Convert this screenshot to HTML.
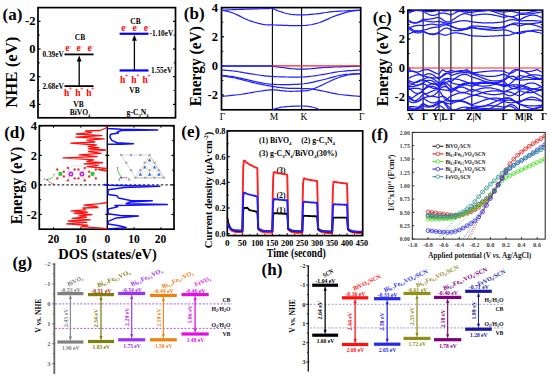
<!DOCTYPE html>
<html><head><meta charset="utf-8"><style>
html,body{margin:0;padding:0;background:#fff;width:550px;height:378px;overflow:hidden}
svg{display:block}
</style></head><body>
<svg width="550" height="378" viewBox="0 0 550 378">
<rect width="550" height="378" fill="#fff"/>
<rect x="38" y="7.6" width="137.5" height="110.2" stroke="#000" stroke-width="1.7" fill="none"/>
<line x1="38" y1="21.3" x2="40.5" y2="21.3" stroke="#000" stroke-width="1.2" />
<line x1="173" y1="21.3" x2="175.5" y2="21.3" stroke="#000" stroke-width="1.2" />
<text x="35.5" y="25.3" font-family='"Liberation Serif", serif' font-size="12.5" font-weight="bold" text-anchor="end" fill="#000" >-2</text>
<line x1="38" y1="49" x2="40.5" y2="49" stroke="#000" stroke-width="1.2" />
<line x1="173" y1="49" x2="175.5" y2="49" stroke="#000" stroke-width="1.2" />
<text x="35.5" y="53" font-family='"Liberation Serif", serif' font-size="12.5" font-weight="bold" text-anchor="end" fill="#000" >0</text>
<line x1="38" y1="76.7" x2="40.5" y2="76.7" stroke="#000" stroke-width="1.2" />
<line x1="173" y1="76.7" x2="175.5" y2="76.7" stroke="#000" stroke-width="1.2" />
<text x="35.5" y="80.7" font-family='"Liberation Serif", serif' font-size="12.5" font-weight="bold" text-anchor="end" fill="#000" >2</text>
<line x1="38" y1="104.4" x2="40.5" y2="104.4" stroke="#000" stroke-width="1.2" />
<line x1="173" y1="104.4" x2="175.5" y2="104.4" stroke="#000" stroke-width="1.2" />
<text x="35.5" y="108.4" font-family='"Liberation Serif", serif' font-size="12.5" font-weight="bold" text-anchor="end" fill="#000" >4</text>
<line x1="38" y1="35.15" x2="39.8" y2="35.15" stroke="#000" stroke-width="1" />
<line x1="173.7" y1="35.15" x2="175.5" y2="35.15" stroke="#000" stroke-width="1" />
<line x1="38" y1="62.85" x2="39.8" y2="62.85" stroke="#000" stroke-width="1" />
<line x1="173.7" y1="62.85" x2="175.5" y2="62.85" stroke="#000" stroke-width="1" />
<line x1="38" y1="90.55" x2="39.8" y2="90.55" stroke="#000" stroke-width="1" />
<line x1="173.7" y1="90.55" x2="175.5" y2="90.55" stroke="#000" stroke-width="1" />
<text x="2.5" y="19.8" font-family='"Liberation Serif", serif' font-size="17" font-weight="bold" text-anchor="start" fill="#000" >(a)</text>
<text x="17.2" y="72.2" font-family='"Liberation Serif", serif' font-size="17" font-weight="bold" text-anchor="middle" fill="#000" transform="rotate(-90 17.2 72.2)"  textLength="71" lengthAdjust="spacingAndGlyphs">NHE (eV)</text>
<line x1="64.5" y1="54.4" x2="93.5" y2="54.4" stroke="#000" stroke-width="1.8" />
<line x1="64.5" y1="86.12" x2="93.5" y2="86.12" stroke="#000" stroke-width="1.8" />
<line x1="79.2" y1="86.12" x2="79.2" y2="60.4" stroke="#000" stroke-width="1.3" />
<path d="M79.2,55.4 L76.8,61.4 L81.6,61.4 Z" fill="#000"/>
<text x="63.7" y="56.9" font-family='"Liberation Serif", serif' font-size="7.3" font-weight="bold" text-anchor="end" fill="#000" >0.39eV</text>
<text x="63.7" y="88.62" font-family='"Liberation Serif", serif' font-size="7.3" font-weight="bold" text-anchor="end" fill="#000" >2.68eV</text>
<text x="80" y="39.5" font-family='"Liberation Serif", serif' font-size="7.5" font-weight="bold" text-anchor="middle" fill="#000" >CB</text>
<text x="78.5" y="106.5" font-family='"Liberation Serif", serif' font-size="7.5" font-weight="bold" text-anchor="middle" fill="#000" >VB</text>
<text x="80" y="115.2" font-family='"Liberation Serif", serif' font-size="7.6" font-weight="bold" text-anchor="middle" fill="#000" >BiVO<tspan font-size="4.5" dy="1.5">4</tspan></text>
<text x="65.2" y="50.8" font-family='"Liberation Serif", serif' font-size="9.5" font-weight="bold" text-anchor="start" fill="#f00" >e</text>
<text x="69.6" y="46.6" font-family='"Liberation Serif", serif' font-size="5" font-weight="bold" text-anchor="start" fill="#f00" >-</text>
<text x="64" y="96.2" font-family='"Liberation Serif", serif' font-size="9.5" font-weight="bold" text-anchor="start" fill="#f00" >h</text>
<text x="69" y="91" font-family='"Liberation Serif", serif' font-size="5.5" font-weight="bold" text-anchor="start" fill="#f00" >+</text>
<text x="76.5" y="50.8" font-family='"Liberation Serif", serif' font-size="9.5" font-weight="bold" text-anchor="start" fill="#f00" >e</text>
<text x="80.9" y="46.6" font-family='"Liberation Serif", serif' font-size="5" font-weight="bold" text-anchor="start" fill="#f00" >-</text>
<text x="75.3" y="96.2" font-family='"Liberation Serif", serif' font-size="9.5" font-weight="bold" text-anchor="start" fill="#f00" >h</text>
<text x="80.3" y="91" font-family='"Liberation Serif", serif' font-size="5.5" font-weight="bold" text-anchor="start" fill="#f00" >+</text>
<text x="87.5" y="50.8" font-family='"Liberation Serif", serif' font-size="9.5" font-weight="bold" text-anchor="start" fill="#f00" >e</text>
<text x="91.9" y="46.6" font-family='"Liberation Serif", serif' font-size="5" font-weight="bold" text-anchor="start" fill="#f00" >-</text>
<text x="86.3" y="96.2" font-family='"Liberation Serif", serif' font-size="9.5" font-weight="bold" text-anchor="start" fill="#f00" >h</text>
<text x="91.3" y="91" font-family='"Liberation Serif", serif' font-size="5.5" font-weight="bold" text-anchor="start" fill="#f00" >+</text>
<line x1="119.6" y1="33.77" x2="148.5" y2="33.77" stroke="#0000ff" stroke-width="2.2" />
<line x1="119.6" y1="70.47" x2="148.5" y2="70.47" stroke="#0000ff" stroke-width="2.2" />
<line x1="134.4" y1="70.47" x2="134.4" y2="39.77" stroke="#000" stroke-width="1.3" />
<path d="M134.4,34.77 L132,40.77 L136.8,40.77 Z" fill="#000"/>
<text x="149.5" y="36.37" font-family='"Liberation Serif", serif' font-size="7.3" font-weight="bold" text-anchor="start" fill="#000" >-1.10eV</text>
<text x="151" y="73.07" font-family='"Liberation Serif", serif' font-size="7.3" font-weight="bold" text-anchor="start" fill="#000" >1.55eV</text>
<text x="135.5" y="23.8" font-family='"Liberation Serif", serif' font-size="7.5" font-weight="bold" text-anchor="middle" fill="#000" >CB</text>
<text x="134.5" y="92.6" font-family='"Liberation Serif", serif' font-size="7.5" font-weight="bold" text-anchor="middle" fill="#000" >VB</text>
<text x="137.5" y="115" font-family='"Liberation Serif", serif' font-size="7.6" font-weight="bold" text-anchor="middle" fill="#000" >g-C<tspan font-size="4.5" dy="1.5">3</tspan><tspan dy="-1.5">N</tspan><tspan font-size="4.5" dy="1.5">4</tspan></text>
<text x="121.2" y="31.2" font-family='"Liberation Serif", serif' font-size="9.5" font-weight="bold" text-anchor="start" fill="#f00" >e</text>
<text x="125.6" y="27.2" font-family='"Liberation Serif", serif' font-size="5" font-weight="bold" text-anchor="start" fill="#f00" >-</text>
<text x="120" y="83.2" font-family='"Liberation Serif", serif' font-size="9.5" font-weight="bold" text-anchor="start" fill="#f00" >h</text>
<text x="125" y="78.2" font-family='"Liberation Serif", serif' font-size="5.5" font-weight="bold" text-anchor="start" fill="#f00" >+</text>
<text x="132.5" y="31.2" font-family='"Liberation Serif", serif' font-size="9.5" font-weight="bold" text-anchor="start" fill="#f00" >e</text>
<text x="136.9" y="27.2" font-family='"Liberation Serif", serif' font-size="5" font-weight="bold" text-anchor="start" fill="#f00" >-</text>
<text x="131.3" y="83.2" font-family='"Liberation Serif", serif' font-size="9.5" font-weight="bold" text-anchor="start" fill="#f00" >h</text>
<text x="136.3" y="78.2" font-family='"Liberation Serif", serif' font-size="5.5" font-weight="bold" text-anchor="start" fill="#f00" >+</text>
<text x="143.8" y="31.2" font-family='"Liberation Serif", serif' font-size="9.5" font-weight="bold" text-anchor="start" fill="#f00" >e</text>
<text x="148.2" y="27.2" font-family='"Liberation Serif", serif' font-size="5" font-weight="bold" text-anchor="start" fill="#f00" >-</text>
<text x="142.6" y="83.2" font-family='"Liberation Serif", serif' font-size="9.5" font-weight="bold" text-anchor="start" fill="#f00" >h</text>
<text x="147.6" y="78.2" font-family='"Liberation Serif", serif' font-size="5.5" font-weight="bold" text-anchor="start" fill="#f00" >+</text>
<rect x="221.5" y="7.6" width="139.2" height="102.2" stroke="#000" stroke-width="1.7" fill="none"/>
<line x1="272.4" y1="7.6" x2="272.4" y2="109.8" stroke="#000" stroke-width="1.1" />
<line x1="301.6" y1="7.6" x2="301.6" y2="109.8" stroke="#000" stroke-width="1.1" />
<line x1="221.5" y1="7.62" x2="224" y2="7.62" stroke="#000" stroke-width="1.2" />
<text x="218" y="11.62" font-family='"Liberation Serif", serif' font-size="12.5" font-weight="bold" text-anchor="end" fill="#000" >4</text>
<line x1="221.5" y1="36.76" x2="224" y2="36.76" stroke="#000" stroke-width="1.2" />
<text x="218" y="40.76" font-family='"Liberation Serif", serif' font-size="12.5" font-weight="bold" text-anchor="end" fill="#000" >2</text>
<line x1="221.5" y1="65.9" x2="224" y2="65.9" stroke="#000" stroke-width="1.2" />
<text x="218" y="69.9" font-family='"Liberation Serif", serif' font-size="12.5" font-weight="bold" text-anchor="end" fill="#000" >0</text>
<line x1="221.5" y1="95.04" x2="224" y2="95.04" stroke="#000" stroke-width="1.2" />
<text x="218" y="99.04" font-family='"Liberation Serif", serif' font-size="12.5" font-weight="bold" text-anchor="end" fill="#000" >-2</text>
<line x1="221.5" y1="22.19" x2="223.3" y2="22.19" stroke="#000" stroke-width="1" />
<line x1="221.5" y1="51.33" x2="223.3" y2="51.33" stroke="#000" stroke-width="1" />
<line x1="221.5" y1="80.47" x2="223.3" y2="80.47" stroke="#000" stroke-width="1" />
<line x1="358.9" y1="22.19" x2="360.7" y2="22.19" stroke="#000" stroke-width="1" />
<line x1="358.9" y1="51.33" x2="360.7" y2="51.33" stroke="#000" stroke-width="1" />
<line x1="358.9" y1="80.47" x2="360.7" y2="80.47" stroke="#000" stroke-width="1" />
<text x="183.8" y="19.4" font-family='"Liberation Serif", serif' font-size="17" font-weight="bold" text-anchor="start" fill="#000" >(b)</text>
<text x="201" y="66.2" font-family='"Liberation Serif", serif' font-size="17" font-weight="bold" text-anchor="middle" fill="#000" transform="rotate(-90 201 66.2)"  textLength="80" lengthAdjust="spacingAndGlyphs">Energy (eV)</text>
<text x="222.5" y="119.8" font-family='"Liberation Serif", serif' font-size="9.5" font-weight="normal" text-anchor="middle" fill="#000" >Γ</text>
<text x="273.9" y="119.8" font-family='"Liberation Serif", serif' font-size="9.5" font-weight="normal" text-anchor="middle" fill="#000" >M</text>
<text x="303.9" y="119.8" font-family='"Liberation Serif", serif' font-size="9.5" font-weight="normal" text-anchor="middle" fill="#000" >K</text>
<text x="361.8" y="119.8" font-family='"Liberation Serif", serif' font-size="9.5" font-weight="normal" text-anchor="middle" fill="#000" >Γ</text>
<polyline points="221.5,10.2 222.54,10.15 223.79,10.09 225.25,10.03 226.9,9.95 228.72,9.86 230.71,9.77 232.85,9.68 235.11,9.59 237.5,9.49 240,9.4 242.82,9.3 246.11,9.2 249.72,9.08 253.51,8.97 257.36,8.85 261.11,8.74 264.62,8.63 267.77,8.54 270.41,8.46 272.4,8.4" fill="none" stroke="#1f1fff" stroke-width="1.2" stroke-linejoin="round" />
<polyline points="272.4,8.4 272.84,8.59 273.4,8.83 274.05,9.11 274.78,9.44 275.57,9.78 276.42,10.14 277.3,10.5 278.2,10.86 279.11,11.19 280,11.5 280.9,11.8 281.82,12.1 282.77,12.4 283.75,12.7 284.75,13 285.77,13.28 286.81,13.55 287.86,13.79 288.92,14.01 290,14.2 291.09,14.36 292.19,14.49 293.31,14.61 294.44,14.7 295.59,14.77 296.75,14.83 297.94,14.87 299.14,14.89 300.36,14.9 301.6,14.9 302.84,14.88 304.06,14.85 305.28,14.8 306.51,14.73 307.78,14.65 309.08,14.55 310.44,14.44 311.87,14.31 313.38,14.16 315,14 316.71,13.81 318.49,13.58 320.35,13.33 322.27,13.06 324.26,12.78 326.3,12.49 328.4,12.21 330.56,11.95 332.76,11.71 335,11.5 337.43,11.32 340.13,11.14 343,10.98 345.95,10.83 348.9,10.69 351.75,10.57 354.4,10.46 356.77,10.36 358.77,10.27 360.3,10.2" fill="none" stroke="#1f1fff" stroke-width="1.2" stroke-linejoin="round" />
<polyline points="221.5,10.2 222.17,10.35 223.01,10.51 223.99,10.7 225.1,10.92 226.31,11.16 227.6,11.44 228.93,11.76 230.29,12.13 231.66,12.54 233,13 234.36,13.54 235.79,14.18 237.27,14.88 238.8,15.63 240.34,16.41 241.9,17.2 243.46,17.97 245.01,18.71 246.52,19.39 248,20 249.46,20.55 250.92,21.08 252.39,21.58 253.84,22.05 255.29,22.49 256.71,22.91 258.1,23.29 259.45,23.63 260.75,23.93 262,24.2 263.1,24.41 264.01,24.56 264.79,24.67 265.52,24.73 266.25,24.77 267.06,24.79 268.01,24.8 269.17,24.82 270.61,24.85 272.4,24.9 274.62,24.98 277.24,25.09 280.18,25.21 283.34,25.34 286.62,25.46 289.94,25.56 293.19,25.63 296.28,25.67 299.11,25.66 301.6,25.6 303.76,25.49 305.69,25.36 307.44,25.2 309.05,25.01 310.56,24.78 312.01,24.52 313.44,24.21 314.89,23.85 316.39,23.45 318,23 319.68,22.47 321.39,21.84 323.12,21.14 324.85,20.4 326.59,19.62 328.32,18.83 330.03,18.05 331.72,17.31 333.38,16.62 335,16 336.6,15.43 338.2,14.89 339.8,14.37 341.37,13.87 342.92,13.39 344.43,12.95 345.91,12.54 347.33,12.16 348.7,11.81 350,11.5 351.27,11.23 352.53,11.01 353.76,10.83 354.95,10.69 356.09,10.57 357.15,10.47 358.12,10.39 358.97,10.33 359.71,10.26 360.3,10.2" fill="none" stroke="#1f1fff" stroke-width="1.2" stroke-linejoin="round" />
<polyline points="221.5,66.1 224.76,66.1 229.24,66.1 234.63,66.1 240.64,66.1 246.95,66.1 253.26,66.1 259.27,66.1 264.66,66.1 269.14,66.1 272.4,66.1" fill="none" stroke="#1f1fff" stroke-width="1.2" stroke-linejoin="round" />
<polyline points="272.4,66.1 272.93,66.18 273.55,66.29 274.26,66.41 275.07,66.54 275.97,66.69 276.98,66.85 278.08,67.01 279.29,67.18 280.59,67.34 282,67.5 283.54,67.67 285.22,67.88 287.03,68.1 288.94,68.32 290.94,68.54 293.01,68.75 295.13,68.93 297.28,69.07 299.44,69.17 301.6,69.2 303.73,69.17 305.85,69.07 307.97,68.93 310.12,68.75 312.32,68.54 314.6,68.32 316.99,68.1 319.5,67.88 322.16,67.67 325,67.5 328.21,67.34 331.86,67.18 335.83,67.01 339.96,66.85 344.11,66.69 348.15,66.54 351.93,66.41 355.31,66.29 358.15,66.18 360.3,66.1" fill="none" stroke="#1f1fff" stroke-width="1.2" stroke-linejoin="round" />
<polyline points="221.5,70 222.27,70.06 223.23,70.13 224.35,70.21 225.62,70.29 227,70.39 228.48,70.51 230.05,70.65 231.67,70.81 233.33,70.99 235,71.2 236.75,71.45 238.63,71.75 240.6,72.08 242.66,72.43 244.76,72.8 246.88,73.17 248.99,73.54 251.06,73.89 253.08,74.21 255,74.5 256.79,74.76 258.46,75.01 260.04,75.24 261.58,75.47 263.12,75.67 264.72,75.87 266.39,76.05 268.21,76.22 270.19,76.37 272.4,76.5 274.89,76.62 277.66,76.74 280.63,76.84 283.75,76.93 286.94,77 290.13,77.05 293.26,77.08 296.26,77.08 299.06,77.06 301.6,77 303.87,76.91 305.95,76.78 307.86,76.63 309.66,76.45 311.38,76.25 313.04,76.03 314.7,75.79 316.39,75.54 318.14,75.27 320,75 321.93,74.7 323.89,74.36 325.87,74 327.87,73.61 329.88,73.22 331.9,72.83 333.93,72.45 335.96,72.1 337.98,71.78 340,71.5 342.11,71.26 344.37,71.05 346.71,70.86 349.07,70.68 351.4,70.53 353.63,70.4 355.69,70.28 357.53,70.17 359.09,70.08 360.3,70" fill="none" stroke="#1f1fff" stroke-width="1.2" stroke-linejoin="round" />
<polyline points="221.5,75.3 222.27,75.39 223.23,75.49 224.35,75.6 225.62,75.72 227,75.87 228.48,76.04 230.05,76.23 231.67,76.45 233.33,76.71 235,77 236.75,77.34 238.63,77.75 240.6,78.2 242.66,78.68 244.76,79.18 246.88,79.69 248.99,80.19 251.06,80.66 253.08,81.11 255,81.5 256.79,81.86 258.46,82.22 260.04,82.56 261.58,82.89 263.12,83.2 264.72,83.48 266.39,83.74 268.21,83.97 270.19,84.15 272.4,84.3 274.88,84.41 277.63,84.5 280.57,84.55 283.65,84.58 286.81,84.57 289.99,84.54 293.12,84.46 296.13,84.35 298.98,84.19 301.6,84 304,83.75 306.25,83.45 308.38,83.1 310.41,82.71 312.38,82.29 314.29,81.85 316.19,81.39 318.09,80.92 320.02,80.46 322,80 324.02,79.52 326.05,79.01 328.08,78.46 330.11,77.9 332.13,77.34 334.14,76.8 336.14,76.27 338.12,75.79 340.07,75.36 342,75 343.98,74.7 346.06,74.45 348.19,74.25 350.32,74.08 352.4,73.94 354.38,73.82 356.21,73.73 357.84,73.65 359.22,73.57 360.3,73.5" fill="none" stroke="#1f1fff" stroke-width="1.2" stroke-linejoin="round" />
<polyline points="221.5,75.8 222.27,75.92 223.23,76.05 224.35,76.21 225.62,76.39 227,76.59 228.48,76.81 230.05,77.06 231.67,77.35 233.33,77.66 235,78 236.75,78.39 238.63,78.85 240.6,79.34 242.66,79.88 244.76,80.42 246.88,80.98 248.99,81.53 251.06,82.06 253.08,82.55 255,83 256.86,83.41 258.69,83.81 260.5,84.19 262.28,84.55 264.04,84.9 265.77,85.23 267.47,85.55 269.14,85.85 270.79,86.13 272.4,86.4 273.97,86.65 275.5,86.89 276.99,87.1 278.44,87.31 279.88,87.49 281.29,87.66 282.71,87.82 284.12,87.96 285.55,88.09 287,88.2 288.48,88.29 289.99,88.35 291.51,88.39 293.04,88.42 294.56,88.43 296.06,88.44 297.53,88.44 298.95,88.45 300.31,88.47 301.6,88.5 302.8,88.53 303.91,88.56 304.95,88.57 305.94,88.59 306.9,88.61 307.85,88.65 308.82,88.7 309.82,88.77 310.87,88.87 312,89 313.19,89.17 314.4,89.36 315.65,89.59 316.92,89.83 318.21,90.09 319.53,90.37 320.87,90.65 322.23,90.94 323.61,91.22 325,91.5 326.4,91.78 327.79,92.09 329.19,92.4 330.6,92.72 332.04,93.04 333.52,93.36 335.05,93.67 336.63,93.96 338.28,94.24 340,94.5 341.91,94.74 344.05,94.98 346.34,95.21 348.71,95.43 351.09,95.64 353.39,95.83 355.54,96 357.45,96.16 359.07,96.29 360.3,96.4" fill="none" stroke="#1f1fff" stroke-width="1.2" stroke-linejoin="round" />
<polyline points="221.5,96.4 222.6,96.29 224.02,96.16 225.71,96 227.59,95.83 229.62,95.64 231.75,95.43 233.9,95.21 236.04,94.98 238.09,94.74 240,94.5 241.84,94.24 243.69,93.95 245.55,93.64 247.41,93.32 249.26,92.99 251.08,92.66 252.88,92.34 254.64,92.03 256.35,91.75 258,91.5 259.58,91.26 261.11,91.03 262.58,90.8 264.01,90.58 265.41,90.38 266.8,90.19 268.18,90.04 269.56,89.92 270.97,89.84 272.4,89.8 273.85,89.82 275.31,89.91 276.77,90.04 278.23,90.21 279.69,90.41 281.15,90.61 282.61,90.8 284.08,90.97 285.54,91.11 287,91.2 288.49,91.25 290.02,91.28 291.58,91.28 293.14,91.27 294.69,91.25 296.21,91.21 297.68,91.17 299.08,91.12 300.39,91.06 301.6,91 302.68,90.95 303.65,90.9 304.53,90.85 305.33,90.8 306.09,90.74 306.82,90.65 307.56,90.55 308.32,90.4 309.12,90.23 310,90 310.91,89.73 311.82,89.44 312.72,89.11 313.64,88.76 314.59,88.38 315.56,87.96 316.58,87.52 317.65,87.04 318.79,86.53 320,86 321.31,85.41 322.71,84.74 324.2,84.03 325.74,83.27 327.31,82.5 328.9,81.73 330.49,80.97 332.05,80.26 333.56,79.59 335,79 336.38,78.47 337.74,77.96 339.07,77.49 340.38,77.05 341.67,76.64 342.95,76.25 344.21,75.9 345.48,75.57 346.74,75.27 348,75 349.31,74.76 350.7,74.56 352.13,74.4 353.56,74.26 354.96,74.15 356.3,74.06 357.54,73.98 358.64,73.92 359.57,73.86 360.3,73.8" fill="none" stroke="#1f1fff" stroke-width="1.2" stroke-linejoin="round" />
<polyline points="272.4,109.6 272.99,109.44 273.71,109.22 274.55,108.96 275.49,108.67 276.54,108.36 277.68,108.05 278.9,107.74 280.2,107.46 281.57,107.21 283,107 284.57,106.83 286.34,106.67 288.25,106.52 290.26,106.39 292.31,106.28 294.37,106.18 296.37,106.1 298.28,106.05 300.04,106.01 301.6,106 302.98,106.01 304.25,106.05 305.41,106.1 306.48,106.18 307.49,106.27 308.44,106.39 309.34,106.52 310.23,106.67 311.11,106.83 312,107 312.91,107.21 313.82,107.46 314.73,107.74 315.61,108.05 316.45,108.36 317.24,108.67 317.97,108.96 318.61,109.22 319.16,109.44 319.6,109.6" fill="none" stroke="#1f1fff" stroke-width="1.2" stroke-linejoin="round" />
<line x1="272.4" y1="65.9" x2="360.3" y2="65.9" stroke="#ff2020" stroke-width="1.3" />
<line x1="221.5" y1="65.9" x2="272.4" y2="65.9" stroke="#1f1fff" stroke-width="1.3" />
<rect x="407.9" y="10.2" width="134.7" height="100" stroke="#000" stroke-width="1.7" fill="none"/>
<line x1="423.1" y1="10.2" x2="423.1" y2="110.2" stroke="#000" stroke-width="1.1" />
<line x1="439" y1="10.2" x2="439" y2="110.2" stroke="#000" stroke-width="1.1" />
<line x1="450.9" y1="10.2" x2="450.9" y2="110.2" stroke="#000" stroke-width="1.1" />
<line x1="471.8" y1="10.2" x2="471.8" y2="110.2" stroke="#000" stroke-width="1.1" />
<line x1="503.9" y1="10.2" x2="503.9" y2="110.2" stroke="#000" stroke-width="1.1" />
<line x1="519.4" y1="10.2" x2="519.4" y2="110.2" stroke="#000" stroke-width="1.1" />
<line x1="407.9" y1="10.2" x2="410.4" y2="10.2" stroke="#000" stroke-width="1.2" />
<text x="405" y="14.2" font-family='"Liberation Serif", serif' font-size="12.5" font-weight="bold" text-anchor="end" fill="#000" >4</text>
<line x1="407.9" y1="39.1" x2="410.4" y2="39.1" stroke="#000" stroke-width="1.2" />
<text x="405" y="43.1" font-family='"Liberation Serif", serif' font-size="12.5" font-weight="bold" text-anchor="end" fill="#000" >2</text>
<line x1="407.9" y1="68" x2="410.4" y2="68" stroke="#000" stroke-width="1.2" />
<text x="405" y="72" font-family='"Liberation Serif", serif' font-size="12.5" font-weight="bold" text-anchor="end" fill="#000" >0</text>
<line x1="407.9" y1="96.9" x2="410.4" y2="96.9" stroke="#000" stroke-width="1.2" />
<text x="405" y="100.9" font-family='"Liberation Serif", serif' font-size="12.5" font-weight="bold" text-anchor="end" fill="#000" >-2</text>
<line x1="407.9" y1="24.65" x2="409.7" y2="24.65" stroke="#000" stroke-width="1" />
<line x1="540.8" y1="24.65" x2="542.6" y2="24.65" stroke="#000" stroke-width="1" />
<line x1="407.9" y1="53.55" x2="409.7" y2="53.55" stroke="#000" stroke-width="1" />
<line x1="540.8" y1="53.55" x2="542.6" y2="53.55" stroke="#000" stroke-width="1" />
<line x1="407.9" y1="82.45" x2="409.7" y2="82.45" stroke="#000" stroke-width="1" />
<line x1="540.8" y1="82.45" x2="542.6" y2="82.45" stroke="#000" stroke-width="1" />
<text x="372.8" y="22.5" font-family='"Liberation Serif", serif' font-size="17" font-weight="bold" text-anchor="start" fill="#000" >(c)</text>
<text x="388" y="66.2" font-family='"Liberation Serif", serif' font-size="17" font-weight="bold" text-anchor="middle" fill="#000" transform="rotate(-90 388 66.2)"  textLength="80" lengthAdjust="spacingAndGlyphs">Energy (eV)</text>
<text x="410.5" y="120" font-family='"Liberation Serif", serif' font-size="9.5" font-weight="bold" text-anchor="middle" fill="#000" >X</text>
<text x="425" y="120" font-family='"Liberation Serif", serif' font-size="9.5" font-weight="bold" text-anchor="middle" fill="#000" >Γ</text>
<text x="440" y="120" font-family='"Liberation Serif", serif' font-size="9.5" font-weight="bold" text-anchor="middle" fill="#000" >Y|L</text>
<text x="452.5" y="120" font-family='"Liberation Serif", serif' font-size="9.5" font-weight="bold" text-anchor="middle" fill="#000" >Γ</text>
<text x="473.8" y="120" font-family='"Liberation Serif", serif' font-size="9.5" font-weight="bold" text-anchor="middle" fill="#000" >Z|N</text>
<text x="504.5" y="120" font-family='"Liberation Serif", serif' font-size="9.5" font-weight="bold" text-anchor="middle" fill="#000" >Γ</text>
<text x="524" y="120" font-family='"Liberation Serif", serif' font-size="9.5" font-weight="bold" text-anchor="middle" fill="#000" >M|R</text>
<text x="544" y="120" font-family='"Liberation Serif", serif' font-size="9.5" font-weight="bold" text-anchor="middle" fill="#000" >Γ</text>
<clipPath id="cc"><rect x="407.9" y="10.2" width="134.70000000000005" height="100.0"/></clipPath>
<g clip-path="url(#cc)" fill="none" stroke="#1a1aff" stroke-width="1.25"><polyline points="407.9,12.06 408.91,11.97 409.93,11.82 410.94,11.64 411.95,11.42 412.97,11.17 413.98,10.91 414.99,10.65 416.01,10.39 417.02,10.39 418.03,10.51 419.05,10.62 420.06,10.69 421.07,10.73 422.09,10.74 423.1,10.72 424.16,10.95 425.22,11.15 426.28,11.33 427.34,11.46 428.4,11.55 429.46,11.59 430.52,11.57 431.58,11.51 432.64,11.4 433.7,11.25 434.76,11.06 435.82,10.84 436.88,10.6 437.94,10.36 439,10.6 440.08,10.31 441.16,10.49 442.25,10.65 443.33,10.77 444.41,10.84 445.49,10.86 446.57,10.82 447.65,10.73 448.74,10.6 449.82,10.43 450.9,10.39 451.94,10.41 452.99,10.45 454.03,10.51 455.08,10.6 456.12,10.71 457.17,10.83 458.21,10.97 459.26,11.12 460.31,11.28 461.35,11.44 462.39,11.6 463.44,11.76 464.49,11.9 465.53,12.04 466.57,12.16 467.62,12.26 468.67,12.34 469.71,12.4 470.75,12.44 471.8,12.45 472.8,12.26 473.81,12.07 474.81,11.89 475.81,11.71 476.82,11.54 477.82,11.37 478.82,11.22 479.82,11.07 480.83,10.94 481.83,10.82 482.83,10.71 483.84,10.62 484.84,10.55 485.84,10.49 486.85,10.45 487.85,10.43 488.85,10.43 489.86,10.45 490.86,10.48 491.86,10.53 492.87,10.6 493.87,10.69 494.87,10.79 495.88,10.9 496.88,11.03 497.88,11.17 498.88,11.33 499.89,11.49 500.89,11.66 501.89,11.84 502.9,12.02 503.9,12.21 504.93,11.97 505.97,11.75 507,11.58 508.03,11.45 509.07,11.38 510.1,11.36 511.13,11.39 512.17,11.48 513.2,11.63 514.23,11.81 515.27,12.03 516.3,12.28 517.33,12.54 518.37,12.81 519.4,13.07 520.41,13.14 521.42,13.17 522.43,13.17 523.43,13.15 524.44,13.09 525.45,13 526.46,12.88 527.47,12.73 528.48,12.56 529.49,12.37 530.5,12.17 531.5,11.95 532.51,11.72 533.52,11.48 534.53,11.25 535.54,11.02 536.55,10.8 537.56,10.59 538.57,10.39 539.57,10.35 540.58,10.44 541.59,10.51 542.6,10.57"/><polyline points="407.9,13.27 408.91,12.82 409.93,12.34 410.94,11.87 411.95,11.41 412.97,10.99 413.98,10.63 414.99,10.34 416.01,10.4 417.02,10.46 418.03,10.47 419.05,10.41 420.06,10.3 421.07,10.57 422.09,10.91 423.1,11.32 424.16,11.92 425.22,12.53 426.28,13.15 427.34,13.73 428.4,14.25 429.46,14.7 430.52,15.04 431.58,15.27 432.64,15.38 433.7,15.36 434.76,15.21 435.82,14.94 436.88,14.56 437.94,14.08 439,13.54 440.08,13.29 441.16,13.11 442.25,13.02 443.33,13.03 444.41,13.13 445.49,13.32 446.57,13.58 447.65,13.89 448.74,14.22 449.82,14.55 450.9,14.86 451.94,14.44 452.99,13.98 454.03,13.48 455.08,12.96 456.12,12.42 457.17,11.89 458.21,11.36 459.26,10.87 460.31,10.41 461.35,10.48 462.39,10.69 463.44,10.85 464.49,10.97 465.53,11.05 466.57,11.07 467.62,11.04 468.67,10.96 469.71,10.84 470.75,10.67 471.8,10.46 472.8,10.59 473.81,10.71 474.81,10.82 475.81,10.9 476.82,10.97 477.82,11.02 478.82,11.05 479.82,11.06 480.83,11.05 481.83,11.02 482.83,10.98 483.84,10.91 484.84,10.82 485.84,10.72 486.85,10.6 487.85,10.47 488.85,10.32 489.86,10.53 490.86,10.82 491.86,11.12 492.87,11.43 493.87,11.76 494.87,12.09 495.88,12.42 496.88,12.76 497.88,13.09 498.88,13.41 499.89,13.73 500.89,14.03 501.89,14.32 502.9,14.59 503.9,14.83 504.93,15.26 505.97,15.66 507,16 508.03,16.28 509.07,16.48 510.1,16.59 511.13,16.62 512.17,16.55 513.2,16.39 514.23,16.16 515.27,15.85 516.3,15.48 517.33,15.06 518.37,14.63 519.4,14.19 520.41,14.26 521.42,14.32 522.43,14.35 523.43,14.36 524.44,14.34 525.45,14.3 526.46,14.24 527.47,14.16 528.48,14.06 529.49,13.94 530.5,13.81 531.5,13.66 532.51,13.51 533.52,13.34 534.53,13.17 535.54,13 536.55,12.84 537.56,12.68 538.57,12.52 539.57,12.38 540.58,12.25 541.59,12.14 542.6,12.04"/><polyline points="407.9,19.76 408.91,20.43 409.93,21.06 410.94,21.61 411.95,22.07 412.97,22.41 413.98,22.62 414.99,22.69 416.01,22.62 417.02,22.4 418.03,22.06 419.05,21.6 420.06,21.05 421.07,20.42 422.09,19.75 423.1,19.07 424.16,19.19 425.22,19.28 426.28,19.31 427.34,19.3 428.4,19.24 429.46,19.13 430.52,18.98 431.58,18.8 432.64,18.59 433.7,18.36 434.76,18.13 435.82,17.9 436.88,17.68 437.94,17.49 439,17.33 440.08,17.92 441.16,18.63 442.25,19.4 443.33,20.15 444.41,20.83 445.49,21.39 446.57,21.78 447.65,21.97 448.74,21.94 449.82,21.7 450.9,21.26 451.94,20.59 452.99,19.86 454.03,19.11 455.08,18.34 456.12,17.58 457.17,16.85 458.21,16.16 459.26,15.52 460.31,14.96 461.35,14.49 462.39,14.13 463.44,13.87 464.49,13.73 465.53,13.7 466.57,13.8 467.62,14.02 468.67,14.34 469.71,14.77 470.75,15.3 471.8,15.91 472.8,15.67 473.81,15.44 474.81,15.23 475.81,15.03 476.82,14.84 477.82,14.68 478.82,14.53 479.82,14.4 480.83,14.3 481.83,14.22 482.83,14.16 483.84,14.13 484.84,14.12 485.84,14.13 486.85,14.17 487.85,14.24 488.85,14.33 489.86,14.44 490.86,14.57 491.86,14.72 492.87,14.9 493.87,15.09 494.87,15.29 495.88,15.51 496.88,15.74 497.88,15.98 498.88,16.22 499.89,16.47 500.89,16.72 501.89,16.98 502.9,17.22 503.9,17.47 504.93,17.1 505.97,16.81 507,16.59 508.03,16.47 509.07,16.45 510.1,16.53 511.13,16.7 512.17,16.96 513.2,17.3 514.23,17.7 515.27,18.14 516.3,18.61 517.33,19.09 518.37,19.54 519.4,19.96 520.41,19.44 521.42,18.91 522.43,18.38 523.43,17.86 524.44,17.37 525.45,16.9 526.46,16.47 527.47,16.09 528.48,15.77 529.49,15.51 530.5,15.31 531.5,15.18 532.51,15.12 533.52,15.13 534.53,15.22 535.54,15.38 536.55,15.6 537.56,15.89 538.57,16.24 539.57,16.64 540.58,17.08 541.59,17.56 542.6,18.07"/><polyline points="407.9,21.16 408.91,21.61 409.93,22.02 410.94,22.38 411.95,22.68 412.97,22.89 413.98,23.01 414.99,23.04 416.01,22.97 417.02,22.81 418.03,22.56 419.05,22.24 420.06,21.85 421.07,21.42 422.09,20.97 423.1,20.51 424.16,20.67 425.22,20.84 426.28,21.02 427.34,21.2 428.4,21.37 429.46,21.51 430.52,21.64 431.58,21.73 432.64,21.79 433.7,21.81 434.76,21.79 435.82,21.74 436.88,21.65 437.94,21.53 439,21.39 440.08,21.58 441.16,21.83 442.25,22.11 443.33,22.41 444.41,22.7 445.49,22.95 446.57,23.15 447.65,23.28 448.74,23.33 449.82,23.3 450.9,23.18 451.94,22.91 452.99,22.64 454.03,22.36 455.08,22.08 456.12,21.82 457.17,21.57 458.21,21.34 459.26,21.15 460.31,20.98 461.35,20.86 462.39,20.77 463.44,20.73 464.49,20.73 465.53,20.77 466.57,20.86 467.62,20.99 468.67,21.15 469.71,21.35 470.75,21.58 471.8,21.82 472.8,21.94 473.81,22.05 474.81,22.16 475.81,22.26 476.82,22.37 477.82,22.46 478.82,22.55 479.82,22.64 480.83,22.71 481.83,22.78 482.83,22.84 483.84,22.89 484.84,22.93 485.84,22.96 486.85,22.98 487.85,22.98 488.85,22.98 489.86,22.96 490.86,22.94 491.86,22.9 492.87,22.85 493.87,22.8 494.87,22.73 495.88,22.66 496.88,22.57 497.88,22.49 498.88,22.39 499.89,22.29 500.89,22.18 501.89,22.07 502.9,21.96 503.9,21.85 504.93,21.49 505.97,21.13 507,20.78 508.03,20.47 509.07,20.19 510.1,19.97 511.13,19.82 512.17,19.73 513.2,19.72 514.23,19.79 515.27,19.93 516.3,20.14 517.33,20.4 518.37,20.71 519.4,21.05 520.41,20.97 521.42,20.89 522.43,20.82 523.43,20.76 524.44,20.7 525.45,20.65 526.46,20.62 527.47,20.59 528.48,20.58 529.49,20.57 530.5,20.58 531.5,20.6 532.51,20.63 533.52,20.67 534.53,20.72 535.54,20.78 536.55,20.85 537.56,20.92 538.57,21 539.57,21.08 540.58,21.17 541.59,21.25 542.6,21.33"/><polyline points="407.9,27.94 408.91,27.68 409.93,27.4 410.94,27.09 411.95,26.77 412.97,26.45 413.98,26.16 414.99,25.9 416.01,25.68 417.02,25.51 418.03,25.41 419.05,25.36 420.06,25.39 421.07,25.48 422.09,25.63 423.1,25.84 424.16,25.54 425.22,25.25 426.28,24.97 427.34,24.72 428.4,24.51 429.46,24.34 430.52,24.23 431.58,24.18 432.64,24.19 433.7,24.26 434.76,24.39 435.82,24.57 436.88,24.8 437.94,25.06 439,25.34 440.08,24.87 441.16,24.46 442.25,24.16 443.33,23.99 444.41,23.95 445.49,24.06 446.57,24.31 447.65,24.66 448.74,25.11 449.82,25.6 450.9,26.11 451.94,26.53 452.99,26.95 454.03,27.37 455.08,27.76 456.12,28.13 457.17,28.45 458.21,28.73 459.26,28.96 460.31,29.13 461.35,29.24 462.39,29.28 463.44,29.26 464.49,29.17 465.53,29.01 466.57,28.8 467.62,28.53 468.67,28.21 469.71,27.86 470.75,27.47 471.8,27.06 472.8,27.28 473.81,27.49 474.81,27.7 475.81,27.91 476.82,28.1 477.82,28.28 478.82,28.44 479.82,28.6 480.83,28.73 481.83,28.85 482.83,28.94 483.84,29.02 484.84,29.08 485.84,29.11 486.85,29.12 487.85,29.11 488.85,29.08 489.86,29.03 490.86,28.96 491.86,28.87 492.87,28.75 493.87,28.62 494.87,28.47 495.88,28.31 496.88,28.13 497.88,27.94 498.88,27.74 499.89,27.54 500.89,27.32 501.89,27.1 502.9,26.88 503.9,26.66 504.93,26.39 505.97,26.06 507,25.69 508.03,25.29 509.07,24.87 510.1,24.46 511.13,24.08 512.17,23.74 513.2,23.45 514.23,23.23 515.27,23.09 516.3,23.03 517.33,23.06 518.37,23.18 519.4,23.37 520.41,23.5 521.42,23.6 522.43,23.7 523.43,23.77 524.44,23.83 525.45,23.87 526.46,23.89 527.47,23.88 528.48,23.86 529.49,23.82 530.5,23.75 531.5,23.67 532.51,23.58 533.52,23.46 534.53,23.34 535.54,23.2 536.55,23.06 537.56,22.91 538.57,22.76 539.57,22.61 540.58,22.47 541.59,22.33 542.6,22.19"/><polyline points="407.9,26.87 408.91,27.4 409.93,27.98 410.94,28.57 411.95,29.16 412.97,29.72 413.98,30.22 414.99,30.64 416.01,30.97 417.02,31.18 418.03,31.28 419.05,31.25 420.06,31.09 421.07,30.82 422.09,30.45 423.1,29.99 424.16,29.83 425.22,29.62 426.28,29.37 427.34,29.09 428.4,28.78 429.46,28.47 430.52,28.16 431.58,27.88 432.64,27.62 433.7,27.41 434.76,27.26 435.82,27.16 436.88,27.13 437.94,27.16 439,27.25 440.08,26.76 441.16,26.25 442.25,25.78 443.33,25.38 444.41,25.09 445.49,24.92 446.57,24.9 447.65,25.02 448.74,25.27 449.82,25.64 450.9,26.09 451.94,26.56 452.99,27.01 454.03,27.44 455.08,27.83 456.12,28.18 457.17,28.48 458.21,28.72 459.26,28.89 460.31,28.99 461.35,29.02 462.39,28.97 463.44,28.86 464.49,28.67 465.53,28.42 466.57,28.11 467.62,27.74 468.67,27.34 469.71,26.9 470.75,26.45 471.8,25.98 472.8,25.99 473.81,26.01 474.81,26.04 475.81,26.07 476.82,26.12 477.82,26.17 478.82,26.23 479.82,26.3 480.83,26.37 481.83,26.45 482.83,26.53 483.84,26.62 484.84,26.7 485.84,26.8 486.85,26.89 487.85,26.98 488.85,27.07 489.86,27.16 490.86,27.25 491.86,27.34 492.87,27.42 493.87,27.5 494.87,27.57 495.88,27.63 496.88,27.69 497.88,27.74 498.88,27.78 499.89,27.82 500.89,27.84 501.89,27.86 502.9,27.87 503.9,27.87 504.93,27.34 505.97,26.79 507,26.25 508.03,25.75 509.07,25.29 510.1,24.91 511.13,24.62 512.17,24.44 513.2,24.36 514.23,24.4 515.27,24.55 516.3,24.8 517.33,25.16 518.37,25.59 519.4,26.08 520.41,25.72 521.42,25.38 522.43,25.07 523.43,24.81 524.44,24.58 525.45,24.4 526.46,24.27 527.47,24.19 528.48,24.16 529.49,24.19 530.5,24.27 531.5,24.4 532.51,24.58 533.52,24.8 534.53,25.07 535.54,25.38 536.55,25.72 537.56,26.08 538.57,26.46 539.57,26.85 540.58,27.24 541.59,27.63 542.6,28.01"/><polyline points="407.9,28.16 408.91,28.78 409.93,29.44 410.94,30.12 411.95,30.77 412.97,31.38 413.98,31.92 414.99,32.36 416.01,32.68 417.02,32.88 418.03,32.94 419.05,32.85 420.06,32.63 421.07,32.28 422.09,31.82 423.1,31.26 424.16,31.73 425.22,32.19 426.28,32.63 427.34,33.04 428.4,33.39 429.46,33.66 430.52,33.86 431.58,33.96 432.64,33.97 433.7,33.88 434.76,33.7 435.82,33.43 436.88,33.09 437.94,32.69 439,32.25 440.08,31.38 441.16,30.49 442.25,29.65 443.33,28.94 444.41,28.4 445.49,28.08 446.57,28.02 447.65,28.2 448.74,28.62 449.82,29.25 450.9,30.03 451.94,30.23 452.99,30.39 454.03,30.52 455.08,30.61 456.12,30.65 457.17,30.66 458.21,30.63 459.26,30.55 460.31,30.43 461.35,30.28 462.39,30.1 463.44,29.88 464.49,29.65 465.53,29.4 466.57,29.13 467.62,28.87 468.67,28.6 469.71,28.34 470.75,28.1 471.8,27.88 472.8,27.99 473.81,28.11 474.81,28.24 475.81,28.37 476.82,28.51 477.82,28.65 478.82,28.79 479.82,28.93 480.83,29.07 481.83,29.21 482.83,29.35 483.84,29.48 484.84,29.6 485.84,29.72 486.85,29.83 487.85,29.93 488.85,30.01 489.86,30.09 490.86,30.16 491.86,30.21 492.87,30.25 493.87,30.27 494.87,30.28 495.88,30.28 496.88,30.26 497.88,30.23 498.88,30.19 499.89,30.13 500.89,30.07 501.89,29.98 502.9,29.89 503.9,29.79 504.93,29.88 505.97,30.04 507,30.27 508.03,30.56 509.07,30.9 510.1,31.27 511.13,31.66 512.17,32.05 513.2,32.41 514.23,32.75 515.27,33.03 516.3,33.26 517.33,33.41 518.37,33.48 519.4,33.48 520.41,33.27 521.42,33.05 522.43,32.8 523.43,32.55 524.44,32.28 525.45,32.01 526.46,31.74 527.47,31.48 528.48,31.23 529.49,30.99 530.5,30.78 531.5,30.58 532.51,30.42 533.52,30.29 534.53,30.19 535.54,30.12 536.55,30.1 537.56,30.11 538.57,30.15 539.57,30.23 540.58,30.35 541.59,30.5 542.6,30.67"/><polyline points="407.9,34.2 408.91,33.84 409.93,33.44 410.94,33.01 411.95,32.57 412.97,32.15 413.98,31.76 414.99,31.42 416.01,31.15 417.02,30.94 418.03,30.83 419.05,30.8 420.06,30.87 421.07,31.02 422.09,31.25 423.1,31.56 424.16,32 425.22,32.47 426.28,32.92 427.34,33.36 428.4,33.75 429.46,34.08 430.52,34.33 431.58,34.5 432.64,34.58 433.7,34.56 434.76,34.44 435.82,34.23 436.88,33.94 437.94,33.59 439,33.17 440.08,33.7 441.16,34.18 442.25,34.59 443.33,34.89 444.41,35.05 445.49,35.06 446.57,34.93 447.65,34.65 448.74,34.26 449.82,33.79 450.9,33.27 451.94,33.13 452.99,33.02 454.03,32.95 455.08,32.92 456.12,32.92 457.17,32.97 458.21,33.05 459.26,33.17 460.31,33.33 461.35,33.51 462.39,33.72 463.44,33.95 464.49,34.19 465.53,34.44 466.57,34.69 467.62,34.94 468.67,35.18 469.71,35.4 470.75,35.6 471.8,35.77 472.8,35.84 473.81,35.9 474.81,35.96 475.81,36.02 476.82,36.07 477.82,36.12 478.82,36.17 479.82,36.2 480.83,36.23 481.83,36.26 482.83,36.28 483.84,36.29 484.84,36.3 485.84,36.29 486.85,36.28 487.85,36.27 488.85,36.25 489.86,36.22 490.86,36.18 491.86,36.14 492.87,36.1 493.87,36.04 494.87,35.99 495.88,35.93 496.88,35.86 497.88,35.8 498.88,35.73 499.89,35.66 500.89,35.59 501.89,35.52 502.9,35.45 503.9,35.38 504.93,35.46 505.97,35.47 507,35.41 508.03,35.28 509.07,35.09 510.1,34.84 511.13,34.55 512.17,34.23 513.2,33.89 514.23,33.55 515.27,33.23 516.3,32.93 517.33,32.67 518.37,32.46 519.4,32.32 520.41,32.09 521.42,31.87 522.43,31.67 523.43,31.5 524.44,31.35 525.45,31.24 526.46,31.15 527.47,31.1 528.48,31.08 529.49,31.09 530.5,31.14 531.5,31.22 532.51,31.33 533.52,31.47 534.53,31.64 535.54,31.83 536.55,32.05 537.56,32.27 538.57,32.51 539.57,32.76 540.58,33.01 541.59,33.26 542.6,33.5"/><polyline points="407.9,70.74 408.91,69.76 409.93,69.93 410.94,70.49 411.95,70.99 412.97,71.42 413.98,71.75 414.99,71.98 416.01,72.09 417.02,72.08 418.03,71.94 419.05,71.69 420.06,71.33 421.07,70.88 422.09,70.36 423.1,69.79 424.16,69.84 425.22,69.83 426.28,69.74 427.34,69.59 428.4,69.68 429.46,70.11 430.52,70.59 431.58,71.11 432.64,71.65 433.7,72.18 434.76,72.69 435.82,73.14 436.88,73.52 437.94,73.82 439,74.01 440.08,72.68 441.16,71.22 442.25,69.76 443.33,70.16 444.41,70.84 445.49,71.33 446.57,71.6 447.65,71.62 448.74,71.39 449.82,70.92 450.9,70.27 451.94,70.63 452.99,70.96 454.03,71.23 455.08,71.44 456.12,71.59 457.17,71.68 458.21,71.69 459.26,71.64 460.31,71.52 461.35,71.33 462.39,71.08 463.44,70.78 464.49,70.43 465.53,70.04 466.57,69.63 467.62,70.01 468.67,70.75 469.71,71.48 470.75,72.19 471.8,72.86 472.8,72.78 473.81,72.7 474.81,72.6 475.81,72.51 476.82,72.4 477.82,72.3 478.82,72.19 479.82,72.08 480.83,71.96 481.83,71.85 482.83,71.74 483.84,71.64 484.84,71.53 485.84,71.43 486.85,71.34 487.85,71.25 488.85,71.17 489.86,71.1 490.86,71.04 491.86,70.98 492.87,70.94 493.87,70.91 494.87,70.88 495.88,70.87 496.88,70.87 497.88,70.88 498.88,70.9 499.89,70.93 500.89,70.97 501.89,71.03 502.9,71.09 503.9,71.16 504.93,71.8 505.97,72.35 507,72.78 508.03,73.08 509.07,73.22 510.1,73.2 511.13,73.03 512.17,72.71 513.2,72.25 514.23,71.68 515.27,71.02 516.3,70.29 517.33,69.54 518.37,69.92 519.4,70.35 520.41,70.65 521.42,70.91 522.43,71.14 523.43,71.33 524.44,71.47 525.45,71.57 526.46,71.63 527.47,71.63 528.48,71.58 529.49,71.49 530.5,71.35 531.5,71.16 532.51,70.94 533.52,70.68 534.53,70.39 535.54,70.07 536.55,69.73 537.56,69.7 538.57,70.29 539.57,70.89 540.58,71.48 541.59,72.04 542.6,72.57"/><polyline points="407.9,72.03 408.91,71.64 409.93,71.35 410.94,71.18 411.95,71.14 412.97,71.22 413.98,71.43 414.99,71.75 416.01,72.17 417.02,72.68 418.03,73.24 419.05,73.84 420.06,74.45 421.07,75.04 422.09,75.59 423.1,76.07 424.16,75.37 425.22,74.77 426.28,74.29 427.34,73.96 428.4,73.79 429.46,73.8 430.52,73.97 431.58,74.31 432.64,74.79 433.7,75.4 434.76,76.1 435.82,76.88 436.88,77.69 437.94,78.5 439,79.28 440.08,78.13 441.16,76.92 442.25,75.75 443.33,74.72 444.41,73.9 445.49,73.38 446.57,73.18 447.65,73.32 448.74,73.8 449.82,74.57 450.9,75.57 451.94,75.26 452.99,74.94 454.03,74.6 455.08,74.27 456.12,73.95 457.17,73.65 458.21,73.37 459.26,73.13 460.31,72.92 461.35,72.75 462.39,72.64 463.44,72.57 464.49,72.55 465.53,72.59 466.57,72.68 467.62,72.81 468.67,73 469.71,73.22 470.75,73.48 471.8,73.77 472.8,74.09 473.81,74.44 474.81,74.81 475.81,75.2 476.82,75.6 477.82,76.01 478.82,76.43 479.82,76.85 480.83,77.27 481.83,77.68 482.83,78.09 483.84,78.48 484.84,78.85 485.84,79.2 486.85,79.53 487.85,79.83 488.85,80.09 489.86,80.33 490.86,80.53 491.86,80.69 492.87,80.82 493.87,80.9 494.87,80.95 495.88,80.95 496.88,80.91 497.88,80.83 498.88,80.71 499.89,80.55 500.89,80.36 501.89,80.12 502.9,79.86 503.9,79.56 504.93,78.8 505.97,77.86 507,76.8 508.03,75.65 509.07,74.47 510.1,73.31 511.13,72.22 512.17,71.25 513.2,70.44 514.23,69.83 515.27,69.54 516.3,69.63 517.33,69.58 518.37,69.7 519.4,70.27 520.41,70.41 521.42,70.64 522.43,70.93 523.43,71.28 524.44,71.69 525.45,72.15 526.46,72.65 527.47,73.18 528.48,73.73 529.49,74.3 530.5,74.86 531.5,75.42 532.51,75.95 533.52,76.45 534.53,76.92 535.54,77.33 536.55,77.69 537.56,77.99 538.57,78.22 539.57,78.37 540.58,78.45 541.59,78.46 542.6,78.38"/><polyline points="407.9,78.49 408.91,78.07 409.93,77.62 410.94,77.14 411.95,76.67 412.97,76.21 413.98,75.8 414.99,75.45 416.01,75.17 417.02,74.98 418.03,74.88 419.05,74.88 420.06,74.99 421.07,75.18 422.09,75.47 423.1,75.82 424.16,76.02 425.22,76.25 426.28,76.49 427.34,76.75 428.4,77 429.46,77.24 430.52,77.46 431.58,77.64 432.64,77.79 433.7,77.88 434.76,77.92 435.82,77.91 436.88,77.85 437.94,77.74 439,77.58 440.08,77.35 441.16,76.94 442.25,76.39 443.33,75.73 444.41,75.03 445.49,74.34 446.57,73.72 447.65,73.21 448.74,72.86 449.82,72.69 450.9,72.73 451.94,72.41 452.99,72.11 454.03,71.82 455.08,71.55 456.12,71.31 457.17,71.1 458.21,70.94 459.26,70.81 460.31,70.74 461.35,70.71 462.39,70.73 463.44,70.8 464.49,70.92 465.53,71.08 466.57,71.28 467.62,71.52 468.67,71.79 469.71,72.08 470.75,72.38 471.8,72.7 472.8,72.99 473.81,73.28 474.81,73.58 475.81,73.88 476.82,74.17 477.82,74.45 478.82,74.73 479.82,74.99 480.83,75.24 481.83,75.47 482.83,75.68 483.84,75.87 484.84,76.03 485.84,76.17 486.85,76.29 487.85,76.37 488.85,76.43 489.86,76.46 490.86,76.46 491.86,76.43 492.87,76.37 493.87,76.28 494.87,76.17 495.88,76.03 496.88,75.86 497.88,75.67 498.88,75.46 499.89,75.23 500.89,74.98 501.89,74.72 502.9,74.44 503.9,74.16 504.93,74.63 505.97,75.17 507,75.78 508.03,76.42 509.07,77.07 510.1,77.69 511.13,78.26 512.17,78.76 513.2,79.16 514.23,79.44 515.27,79.6 516.3,79.62 517.33,79.51 518.37,79.27 519.4,78.9 520.41,78.54 521.42,78.17 522.43,77.78 523.43,77.39 524.44,77.01 525.45,76.63 526.46,76.28 527.47,75.95 528.48,75.65 529.49,75.39 530.5,75.17 531.5,75 532.51,74.88 533.52,74.81 534.53,74.79 535.54,74.82 536.55,74.91 537.56,75.04 538.57,75.23 539.57,75.46 540.58,75.73 541.59,76.04 542.6,76.38"/><polyline points="407.9,80.14 408.91,80.67 409.93,81.17 410.94,81.61 411.95,81.97 412.97,82.25 413.98,82.42 414.99,82.48 416.01,82.43 417.02,82.27 418.03,82 419.05,81.64 420.06,81.21 421.07,80.72 422.09,80.19 423.1,79.65 424.16,78.97 425.22,78.39 426.28,77.94 427.34,77.64 428.4,77.51 429.46,77.55 430.52,77.76 431.58,78.12 432.64,78.63 433.7,79.26 434.76,79.99 435.82,80.77 436.88,81.58 437.94,82.39 439,83.15 440.08,83.09 441.16,82.98 442.25,82.82 443.33,82.63 444.41,82.42 445.49,82.21 446.57,82.02 447.65,81.86 448.74,81.75 449.82,81.69 450.9,81.69 451.94,80.95 452.99,80.16 454.03,79.36 455.08,78.56 456.12,77.79 457.17,77.06 458.21,76.38 459.26,75.79 460.31,75.28 461.35,74.88 462.39,74.59 463.44,74.42 464.49,74.38 465.53,74.46 466.57,74.67 467.62,74.99 468.67,75.43 469.71,75.96 470.75,76.59 471.8,77.28 472.8,77.46 473.81,77.67 474.81,77.92 475.81,78.19 476.82,78.48 477.82,78.8 478.82,79.13 479.82,79.48 480.83,79.85 481.83,80.22 482.83,80.59 483.84,80.97 484.84,81.35 485.84,81.72 486.85,82.08 487.85,82.42 488.85,82.75 489.86,83.07 490.86,83.36 491.86,83.62 492.87,83.86 493.87,84.06 494.87,84.24 495.88,84.38 496.88,84.48 497.88,84.55 498.88,84.59 499.89,84.58 500.89,84.54 501.89,84.46 502.9,84.35 503.9,84.2 504.93,84.66 505.97,84.91 507,84.93 508.03,84.74 509.07,84.34 510.1,83.74 511.13,82.97 512.17,82.07 513.2,81.08 514.23,80.03 515.27,78.97 516.3,77.96 517.33,77.03 518.37,76.22 519.4,75.58 520.41,75.69 521.42,75.83 522.43,76 523.43,76.18 524.44,76.38 525.45,76.59 526.46,76.81 527.47,77.04 528.48,77.27 529.49,77.49 530.5,77.71 531.5,77.91 532.51,78.1 533.52,78.27 534.53,78.42 535.54,78.54 536.55,78.64 537.56,78.71 538.57,78.74 539.57,78.75 540.58,78.72 541.59,78.67 542.6,78.58"/><polyline points="407.9,85.45 408.91,85.34 409.93,85.11 410.94,84.77 411.95,84.33 412.97,83.83 413.98,83.27 414.99,82.68 416.01,82.09 417.02,81.53 418.03,81.02 419.05,80.57 420.06,80.22 421.07,79.97 422.09,79.84 423.1,79.84 424.16,80.22 425.22,80.67 426.28,81.17 427.34,81.69 428.4,82.21 429.46,82.72 430.52,83.18 431.58,83.58 432.64,83.9 433.7,84.12 434.76,84.24 435.82,84.25 436.88,84.16 437.94,83.95 439,83.65 440.08,82.39 441.16,81.2 442.25,80.16 443.33,79.36 444.41,78.87 445.49,78.73 446.57,78.94 447.65,79.5 448.74,80.35 449.82,81.43 450.9,82.64 451.94,82.96 452.99,83.26 454.03,83.55 455.08,83.81 456.12,84.05 457.17,84.24 458.21,84.4 459.26,84.51 460.31,84.57 461.35,84.59 462.39,84.55 463.44,84.47 464.49,84.33 465.53,84.16 466.57,83.94 467.62,83.7 468.67,83.42 469.71,83.13 470.75,82.82 471.8,82.5 472.8,82.64 473.81,82.77 474.81,82.9 475.81,83.01 476.82,83.12 477.82,83.21 478.82,83.29 479.82,83.36 480.83,83.41 481.83,83.45 482.83,83.47 483.84,83.48 484.84,83.47 485.84,83.44 486.85,83.41 487.85,83.35 488.85,83.28 489.86,83.2 490.86,83.11 491.86,83 492.87,82.89 493.87,82.76 494.87,82.63 495.88,82.48 496.88,82.34 497.88,82.18 498.88,82.03 499.89,81.87 500.89,81.72 501.89,81.56 502.9,81.41 503.9,81.26 504.93,82.33 505.97,83.43 507,84.53 508.03,85.56 509.07,86.49 510.1,87.28 511.13,87.88 512.17,88.29 513.2,88.46 514.23,88.41 515.27,88.13 516.3,87.63 517.33,86.94 518.37,86.08 519.4,85.1 520.41,85.54 521.42,85.99 522.43,86.43 523.43,86.85 524.44,87.25 525.45,87.62 526.46,87.95 527.47,88.24 528.48,88.48 529.49,88.67 530.5,88.8 531.5,88.87 532.51,88.88 533.52,88.83 534.53,88.72 535.54,88.56 536.55,88.33 537.56,88.06 538.57,87.74 539.57,87.39 540.58,87 541.59,86.58 542.6,86.15"/><polyline points="407.9,81.85 408.91,82.41 409.93,82.98 410.94,83.52 411.95,84.01 412.97,84.42 413.98,84.75 414.99,84.97 416.01,85.07 417.02,85.06 418.03,84.93 419.05,84.68 420.06,84.34 421.07,83.91 422.09,83.4 423.1,82.86 424.16,82.12 425.22,81.47 426.28,80.95 427.34,80.57 428.4,80.36 429.46,80.31 430.52,80.44 431.58,80.73 432.64,81.18 433.7,81.77 434.76,82.46 435.82,83.24 436.88,84.06 437.94,84.88 439,85.69 440.08,84.84 441.16,83.81 442.25,82.66 443.33,81.5 444.41,80.42 445.49,79.5 446.57,78.82 447.65,78.43 448.74,78.37 449.82,78.65 450.9,79.23 451.94,79.08 452.99,79 454.03,78.97 455.08,79 456.12,79.1 457.17,79.25 458.21,79.45 459.26,79.71 460.31,80 461.35,80.33 462.39,80.69 463.44,81.06 464.49,81.45 465.53,81.83 466.57,82.2 467.62,82.56 468.67,82.88 469.71,83.17 470.75,83.42 471.8,83.62 472.8,83.97 473.81,84.31 474.81,84.63 475.81,84.93 476.82,85.19 477.82,85.43 478.82,85.64 479.82,85.81 480.83,85.95 481.83,86.05 482.83,86.12 483.84,86.14 484.84,86.13 485.84,86.08 486.85,85.99 487.85,85.86 488.85,85.7 489.86,85.51 490.86,85.28 491.86,85.02 492.87,84.73 493.87,84.42 494.87,84.09 495.88,83.74 496.88,83.37 497.88,82.99 498.88,82.6 499.89,82.21 500.89,81.82 501.89,81.43 502.9,81.05 503.9,80.68 504.93,79.8 505.97,78.95 507,78.17 508.03,77.48 509.07,76.92 510.1,76.52 511.13,76.28 512.17,76.23 513.2,76.36 514.23,76.67 515.27,77.14 516.3,77.75 517.33,78.49 518.37,79.3 519.4,80.17 520.41,80.1 521.42,80.02 522.43,79.94 523.43,79.86 524.44,79.79 525.45,79.71 526.46,79.63 527.47,79.56 528.48,79.5 529.49,79.44 530.5,79.39 531.5,79.35 532.51,79.32 533.52,79.3 534.53,79.3 535.54,79.3 536.55,79.31 537.56,79.33 538.57,79.37 539.57,79.41 540.58,79.46 541.59,79.52 542.6,79.59"/><polyline points="407.9,86.79 408.91,87.78 409.93,88.8 410.94,89.8 411.95,90.75 412.97,91.59 413.98,92.3 414.99,92.84 416.01,93.19 417.02,93.33 418.03,93.26 419.05,92.98 420.06,92.51 421.07,91.85 422.09,91.05 423.1,90.13 424.16,89.4 425.22,88.69 426.28,88.02 427.34,87.43 428.4,86.95 429.46,86.59 430.52,86.38 431.58,86.31 432.64,86.39 433.7,86.63 434.76,87 435.82,87.5 436.88,88.1 437.94,88.77 439,89.49 440.08,88.59 441.16,87.78 442.25,87.12 443.33,86.68 444.41,86.48 445.49,86.54 446.57,86.86 447.65,87.42 448.74,88.15 449.82,89.02 450.9,89.94 451.94,89.48 452.99,88.97 454.03,88.4 455.08,87.81 456.12,87.19 457.17,86.56 458.21,85.95 459.26,85.37 460.31,84.82 461.35,84.33 462.39,83.91 463.44,83.56 464.49,83.29 465.53,83.12 466.57,83.05 467.62,83.07 468.67,83.19 469.71,83.4 470.75,83.7 471.8,84.08 472.8,83.83 473.81,83.58 474.81,83.34 475.81,83.12 476.82,82.91 477.82,82.72 478.82,82.55 479.82,82.4 480.83,82.27 481.83,82.17 482.83,82.09 483.84,82.04 484.84,82.02 485.84,82.02 486.85,82.05 487.85,82.1 488.85,82.18 489.86,82.29 490.86,82.42 491.86,82.57 492.87,82.74 493.87,82.93 494.87,83.14 495.88,83.37 496.88,83.61 497.88,83.86 498.88,84.12 499.89,84.38 500.89,84.65 501.89,84.92 502.9,85.19 503.9,85.45 504.93,85.42 505.97,85.37 507,85.31 508.03,85.25 509.07,85.18 510.1,85.11 511.13,85.05 512.17,84.99 513.2,84.94 514.23,84.9 515.27,84.87 516.3,84.85 517.33,84.85 518.37,84.86 519.4,84.89 520.41,85.03 521.42,85.23 522.43,85.46 523.43,85.73 524.44,86.04 525.45,86.37 526.46,86.73 527.47,87.1 528.48,87.47 529.49,87.85 530.5,88.22 531.5,88.58 532.51,88.92 533.52,89.23 534.53,89.51 535.54,89.76 536.55,89.96 537.56,90.12 538.57,90.22 539.57,90.28 540.58,90.28 541.59,90.24 542.6,90.14"/><polyline points="407.9,86.23 408.91,86.44 409.93,86.59 410.94,86.67 411.95,86.67 412.97,86.6 413.98,86.45 414.99,86.24 416.01,85.97 417.02,85.65 418.03,85.31 419.05,84.94 420.06,84.58 421.07,84.23 422.09,83.91 423.1,83.64 424.16,84.05 425.22,84.54 426.28,85.07 427.34,85.64 428.4,86.2 429.46,86.75 430.52,87.25 431.58,87.68 432.64,88.03 433.7,88.28 434.76,88.41 435.82,88.43 436.88,88.33 437.94,88.11 439,87.79 440.08,86.52 441.16,85.34 442.25,84.33 443.33,83.59 444.41,83.16 445.49,83.09 446.57,83.38 447.65,84.01 448.74,84.92 449.82,86.05 450.9,87.29 451.94,87.93 452.99,88.58 454.03,89.21 455.08,89.83 456.12,90.41 457.17,90.93 458.21,91.39 459.26,91.77 460.31,92.07 461.35,92.27 462.39,92.38 463.44,92.38 464.49,92.29 465.53,92.09 466.57,91.8 467.62,91.42 468.67,90.97 469.71,90.45 470.75,89.88 471.8,89.26 472.8,89.55 473.81,89.85 474.81,90.16 475.81,90.48 476.82,90.81 477.82,91.14 478.82,91.48 479.82,91.81 480.83,92.13 481.83,92.45 482.83,92.75 483.84,93.04 484.84,93.31 485.84,93.57 486.85,93.79 487.85,94 488.85,94.17 489.86,94.32 490.86,94.44 491.86,94.52 492.87,94.58 493.87,94.6 494.87,94.59 495.88,94.54 496.88,94.47 497.88,94.36 498.88,94.22 499.89,94.06 500.89,93.86 501.89,93.64 502.9,93.4 503.9,93.13 504.93,93.88 505.97,94.54 507,95.08 508.03,95.48 509.07,95.72 510.1,95.79 511.13,95.68 512.17,95.41 513.2,94.97 514.23,94.4 515.27,93.72 516.3,92.96 517.33,92.14 518.37,91.31 519.4,90.5 520.41,90.9 521.42,91.28 522.43,91.62 523.43,91.93 524.44,92.19 525.45,92.4 526.46,92.57 527.47,92.68 528.48,92.73 529.49,92.72 530.5,92.66 531.5,92.54 532.51,92.37 533.52,92.14 534.53,91.87 535.54,91.56 536.55,91.21 537.56,90.83 538.57,90.43 539.57,90.01 540.58,89.59 541.59,89.17 542.6,88.75"/><polyline points="407.9,89.82 408.91,89.49 409.93,89.18 410.94,88.89 411.95,88.65 412.97,88.46 413.98,88.33 414.99,88.26 416.01,88.27 417.02,88.35 418.03,88.49 419.05,88.69 420.06,88.94 421.07,89.24 422.09,89.56 423.1,89.89 424.16,88.93 425.22,87.94 426.28,86.98 427.34,86.08 428.4,85.28 429.46,84.61 430.52,84.12 431.58,83.81 432.64,83.7 433.7,83.8 434.76,84.1 435.82,84.59 436.88,85.24 437.94,86.04 439,86.94 440.08,85.63 441.16,84.65 442.25,84.07 443.33,83.94 444.41,84.26 445.49,85.02 446.57,86.15 447.65,87.55 448.74,89.12 449.82,90.73 450.9,92.24 451.94,91.66 452.99,91.03 454.03,90.35 455.08,89.65 456.12,88.94 457.17,88.24 458.21,87.57 459.26,86.95 460.31,86.39 461.35,85.9 462.39,85.49 463.44,85.18 464.49,84.98 465.53,84.88 466.57,84.89 467.62,85.02 468.67,85.25 469.71,85.58 470.75,86.01 471.8,86.52 472.8,86.13 473.81,85.75 474.81,85.37 475.81,85 476.82,84.65 477.82,84.31 478.82,84 479.82,83.71 480.83,83.45 481.83,83.22 482.83,83.02 483.84,82.86 484.84,82.73 485.84,82.63 486.85,82.58 487.85,82.56 488.85,82.58 489.86,82.64 490.86,82.74 491.86,82.88 492.87,83.05 493.87,83.25 494.87,83.48 495.88,83.75 496.88,84.04 497.88,84.36 498.88,84.69 499.89,85.05 500.89,85.42 501.89,85.8 502.9,86.18 503.9,86.57 504.93,86.31 505.97,86.08 507,85.91 508.03,85.79 509.07,85.75 510.1,85.76 511.13,85.85 512.17,86 513.2,86.2 514.23,86.45 515.27,86.74 516.3,87.05 517.33,87.37 518.37,87.69 519.4,87.99 520.41,87.34 521.42,86.7 522.43,86.08 523.43,85.49 524.44,84.94 525.45,84.45 526.46,84.01 527.47,83.65 528.48,83.36 529.49,83.16 530.5,83.04 531.5,83.01 532.51,83.06 533.52,83.21 534.53,83.44 535.54,83.74 536.55,84.13 537.56,84.58 538.57,85.09 539.57,85.65 540.58,86.25 541.59,86.88 542.6,87.52"/><polyline points="407.9,96.94 408.91,97.94 409.93,98.84 410.94,99.59 411.95,100.18 412.97,100.56 413.98,100.73 414.99,100.68 416.01,100.41 417.02,99.93 418.03,99.26 419.05,98.44 420.06,97.49 421.07,96.46 422.09,95.39 423.1,94.34 424.16,94.22 425.22,94 426.28,93.7 427.34,93.32 428.4,92.88 429.46,92.41 430.52,91.92 431.58,91.43 432.64,90.97 433.7,90.55 434.76,90.2 435.82,89.93 436.88,89.75 437.94,89.67 439,89.69 440.08,89.66 441.16,89.68 442.25,89.74 443.33,89.84 444.41,89.97 445.49,90.12 446.57,90.27 447.65,90.42 448.74,90.55 449.82,90.66 450.9,90.72 451.94,90.08 452.99,89.47 454.03,88.89 455.08,88.38 456.12,87.93 457.17,87.57 458.21,87.29 459.26,87.11 460.31,87.03 461.35,87.06 462.39,87.18 463.44,87.41 464.49,87.72 465.53,88.13 466.57,88.61 467.62,89.15 468.67,89.74 469.71,90.37 470.75,91.02 471.8,91.67 472.8,91.28 473.81,90.9 474.81,90.52 475.81,90.16 476.82,89.81 477.82,89.48 478.82,89.17 479.82,88.89 480.83,88.63 481.83,88.4 482.83,88.21 483.84,88.05 484.84,87.93 485.84,87.84 486.85,87.79 487.85,87.78 488.85,87.81 489.86,87.87 490.86,87.98 491.86,88.11 492.87,88.29 493.87,88.5 494.87,88.74 495.88,89 496.88,89.3 497.88,89.62 498.88,89.96 499.89,90.31 500.89,90.68 501.89,91.06 502.9,91.45 503.9,91.84 504.93,91.49 505.97,91.1 507,90.69 508.03,90.27 509.07,89.88 510.1,89.51 511.13,89.2 512.17,88.94 513.2,88.77 514.23,88.67 515.27,88.66 516.3,88.73 517.33,88.89 518.37,89.13 519.4,89.43 520.41,89.14 521.42,88.93 522.43,88.79 523.43,88.73 524.44,88.76 525.45,88.86 526.46,89.04 527.47,89.3 528.48,89.63 529.49,90.02 530.5,90.46 531.5,90.96 532.51,91.49 533.52,92.06 534.53,92.64 535.54,93.23 536.55,93.82 537.56,94.39 538.57,94.94 539.57,95.45 540.58,95.92 541.59,96.34 542.6,96.69"/><polyline points="407.9,98.79 408.91,98.77 409.93,98.61 410.94,98.32 411.95,97.89 412.97,97.36 413.98,96.75 414.99,96.08 416.01,95.38 417.02,94.69 418.03,94.03 419.05,93.43 420.06,92.92 421.07,92.52 422.09,92.25 423.1,92.11 424.16,93.09 425.22,94 426.28,94.79 427.34,95.44 428.4,95.91 429.46,96.19 430.52,96.25 431.58,96.11 432.64,95.76 433.7,95.22 434.76,94.52 435.82,93.68 436.88,92.74 437.94,91.74 439,90.73 440.08,91.94 441.16,93.43 442.25,95.08 443.33,96.75 444.41,98.31 445.49,99.63 446.57,100.6 447.65,101.15 448.74,101.24 449.82,100.85 450.9,100.01 451.94,100.29 452.99,100.51 454.03,100.67 455.08,100.76 456.12,100.78 457.17,100.73 458.21,100.6 459.26,100.42 460.31,100.16 461.35,99.86 462.39,99.5 463.44,99.11 464.49,98.68 465.53,98.24 466.57,97.79 467.62,97.34 468.67,96.9 469.71,96.49 470.75,96.12 471.8,95.78 472.8,95.54 473.81,95.28 474.81,95.01 475.81,94.72 476.82,94.43 477.82,94.13 478.82,93.83 479.82,93.53 480.83,93.24 481.83,92.95 482.83,92.67 483.84,92.4 484.84,92.14 485.84,91.9 486.85,91.68 487.85,91.49 488.85,91.31 489.86,91.16 490.86,91.03 491.86,90.94 492.87,90.87 493.87,90.83 494.87,90.82 495.88,90.84 496.88,90.88 497.88,90.96 498.88,91.07 499.89,91.2 500.89,91.35 501.89,91.54 502.9,91.74 503.9,91.97 504.93,91.73 505.97,91.6 507,91.56 508.03,91.63 509.07,91.8 510.1,92.07 511.13,92.42 512.17,92.83 513.2,93.29 514.23,93.79 515.27,94.29 516.3,94.77 517.33,95.22 518.37,95.61 519.4,95.93 520.41,95.45 521.42,94.94 522.43,94.39 523.43,93.83 524.44,93.25 525.45,92.68 526.46,92.12 527.47,91.58 528.48,91.08 529.49,90.62 530.5,90.21 531.5,89.85 532.51,89.57 533.52,89.35 534.53,89.21 535.54,89.14 536.55,89.16 537.56,89.25 538.57,89.42 539.57,89.66 540.58,89.97 541.59,90.34 542.6,90.77"/><polyline points="407.9,100.52 408.91,101.13 409.93,101.66 410.94,102.09 411.95,102.4 412.97,102.57 413.98,102.6 414.99,102.49 416.01,102.24 417.02,101.86 418.03,101.38 419.05,100.8 420.06,100.15 421.07,99.47 422.09,98.79 423.1,98.13 424.16,98.81 425.22,99.53 426.28,100.23 427.34,100.9 428.4,101.5 429.46,102 430.52,102.4 431.58,102.65 432.64,102.77 433.7,102.73 434.76,102.55 435.82,102.23 436.88,101.78 437.94,101.23 439,100.59 440.08,101.18 441.16,101.53 442.25,101.63 443.33,101.46 444.41,101.04 445.49,100.4 446.57,99.59 447.65,98.68 448.74,97.75 449.82,96.86 450.9,96.1 451.94,95.66 452.99,95.23 454.03,94.8 455.08,94.39 456.12,94.01 457.17,93.67 458.21,93.37 459.26,93.13 460.31,92.95 461.35,92.83 462.39,92.78 463.44,92.8 464.49,92.89 465.53,93.04 466.57,93.25 467.62,93.53 468.67,93.85 469.71,94.21 470.75,94.61 471.8,95.03 472.8,95.06 473.81,95.12 474.81,95.21 475.81,95.32 476.82,95.46 477.82,95.62 478.82,95.81 479.82,96.02 480.83,96.24 481.83,96.48 482.83,96.74 483.84,97.01 484.84,97.29 485.84,97.57 486.85,97.86 487.85,98.15 488.85,98.44 489.86,98.72 490.86,99 491.86,99.26 492.87,99.52 493.87,99.75 494.87,99.98 495.88,100.18 496.88,100.36 497.88,100.52 498.88,100.65 499.89,100.76 500.89,100.84 501.89,100.89 502.9,100.92 503.9,100.92 504.93,100.63 505.97,100.4 507,100.23 508.03,100.13 509.07,100.1 510.1,100.14 511.13,100.26 512.17,100.44 513.2,100.68 514.23,100.96 515.27,101.29 516.3,101.63 517.33,101.99 518.37,102.33 519.4,102.65 520.41,102 521.42,101.35 522.43,100.72 523.43,100.11 524.44,99.53 525.45,99 526.46,98.52 527.47,98.11 528.48,97.77 529.49,97.51 530.5,97.33 531.5,97.24 532.51,97.24 533.52,97.33 534.53,97.5 535.54,97.76 536.55,98.09 537.56,98.5 538.57,98.98 539.57,99.5 540.58,100.08 541.59,100.69 542.6,101.33"/><polyline points="407.9,95.38 408.91,96.35 409.93,97.34 410.94,98.29 411.95,99.18 412.97,99.95 413.98,100.58 414.99,101.03 416.01,101.29 417.02,101.35 418.03,101.21 419.05,100.86 420.06,100.33 421.07,99.64 422.09,98.81 423.1,97.89 424.16,97.61 425.22,97.33 426.28,97.08 427.34,96.85 428.4,96.67 429.46,96.54 430.52,96.46 431.58,96.44 432.64,96.47 433.7,96.57 434.76,96.72 435.82,96.92 436.88,97.15 437.94,97.41 439,97.69 440.08,96.99 441.16,96.52 442.25,96.33 443.33,96.42 444.41,96.78 445.49,97.4 446.57,98.22 447.65,99.16 448.74,100.17 449.82,101.15 450.9,102.03 451.94,101.61 452.99,101.25 454.03,100.93 455.08,100.67 456.12,100.48 457.17,100.36 458.21,100.31 459.26,100.34 460.31,100.44 461.35,100.61 462.39,100.85 463.44,101.16 464.49,101.51 465.53,101.91 466.57,102.35 467.62,102.81 468.67,103.28 469.71,103.76 470.75,104.22 471.8,104.67 472.8,104.36 473.81,104.02 474.81,103.68 475.81,103.31 476.82,102.93 477.82,102.55 478.82,102.16 479.82,101.77 480.83,101.39 481.83,101.01 482.83,100.64 483.84,100.29 484.84,99.96 485.84,99.64 486.85,99.35 487.85,99.09 488.85,98.85 489.86,98.65 490.86,98.48 491.86,98.34 492.87,98.24 493.87,98.18 494.87,98.16 495.88,98.17 496.88,98.23 497.88,98.32 498.88,98.44 499.89,98.61 500.89,98.8 501.89,99.03 502.9,99.29 503.9,99.57 504.93,99.01 505.97,98.58 507,98.3 508.03,98.19 509.07,98.24 510.1,98.45 511.13,98.83 512.17,99.34 513.2,99.97 514.23,100.69 515.27,101.46 516.3,102.26 517.33,103.06 518.37,103.8 519.4,104.47 520.41,104.64 521.42,104.81 522.43,104.99 523.43,105.15 524.44,105.31 525.45,105.46 526.46,105.59 527.47,105.71 528.48,105.81 529.49,105.89 530.5,105.95 531.5,105.98 532.51,105.99 533.52,105.98 534.53,105.94 535.54,105.89 536.55,105.81 537.56,105.71 538.57,105.59 539.57,105.45 540.58,105.31 541.59,105.15 542.6,104.98"/><polyline points="407.9,106.4 408.91,106.98 409.93,107.53 410.94,108.01 411.95,108.4 412.97,108.7 413.98,108.88 414.99,108.94 416.01,108.88 417.02,108.7 418.03,108.4 419.05,108 420.06,107.52 421.07,106.98 422.09,106.4 423.1,105.8 424.16,106.28 425.22,106.67 426.28,106.93 427.34,107.07 428.4,107.07 429.46,106.94 430.52,106.68 431.58,106.3 432.64,105.82 433.7,105.26 434.76,104.65 435.82,104.01 436.88,103.37 437.94,102.75 439,102.19 440.08,102.17 441.16,102.21 442.25,102.33 443.33,102.5 444.41,102.72 445.49,102.97 446.57,103.22 447.65,103.46 448.74,103.67 449.82,103.83 450.9,103.93 451.94,103.44 452.99,102.97 454.03,102.55 455.08,102.18 456.12,101.87 457.17,101.63 458.21,101.47 459.26,101.38 460.31,101.37 461.35,101.45 462.39,101.6 463.44,101.83 464.49,102.13 465.53,102.49 466.57,102.91 467.62,103.37 468.67,103.86 469.71,104.37 470.75,104.88 471.8,105.4 472.8,105.66 473.81,105.89 474.81,106.08 475.81,106.23 476.82,106.34 477.82,106.4 478.82,106.42 479.82,106.39 480.83,106.32 481.83,106.21 482.83,106.06 483.84,105.86 484.84,105.63 485.84,105.36 486.85,105.05 487.85,104.71 488.85,104.35 489.86,103.96 490.86,103.55 491.86,103.13 492.87,102.69 493.87,102.24 494.87,101.79 495.88,101.34 496.88,100.89 497.88,100.46 498.88,100.03 499.89,99.63 500.89,99.24 501.89,98.88 502.9,98.55 503.9,98.25 504.93,97.96 505.97,97.82 507,97.81 508.03,97.96 509.07,98.24 510.1,98.64 511.13,99.16 512.17,99.76 513.2,100.42 514.23,101.12 515.27,101.81 516.3,102.47 517.33,103.08 518.37,103.59 519.4,104.01 520.41,104.43 521.42,104.86 522.43,105.31 523.43,105.75 524.44,106.18 525.45,106.6 526.46,106.99 527.47,107.35 528.48,107.67 529.49,107.94 530.5,108.17 531.5,108.34 532.51,108.45 533.52,108.5 534.53,108.5 535.54,108.43 536.55,108.3 537.56,108.12 538.57,107.88 539.57,107.59 540.58,107.26 541.59,106.9 542.6,106.5"/><polyline points="407.9,109.42 408.91,110.2 409.93,110.81 410.94,111.25 411.95,111.47 412.97,111.48 413.98,111.28 414.99,110.86 416.01,110.26 417.02,109.5 418.03,108.6 419.05,107.62 420.06,106.59 421.07,105.55 422.09,104.56 423.1,103.66 424.16,104.3 425.22,104.91 426.28,105.47 427.34,105.95 428.4,106.33 429.46,106.59 430.52,106.73 431.58,106.74 432.64,106.61 433.7,106.35 434.76,105.98 435.82,105.51 436.88,104.96 437.94,104.35 439,103.71 440.08,102.83 441.16,102.23 442.25,101.98 443.33,102.09 444.41,102.55 445.49,103.33 446.57,104.36 447.65,105.55 448.74,106.82 449.82,108.06 450.9,109.17 451.94,109.67 452.99,110.12 454.03,110.53 455.08,110.88 456.12,111.15 457.17,111.35 458.21,111.47 459.26,111.51 460.31,111.46 461.35,111.32 462.39,111.11 463.44,110.82 464.49,110.46 465.53,110.05 466.57,109.58 467.62,109.08 468.67,108.55 469.71,108.01 470.75,107.47 471.8,106.95 472.8,107.41 473.81,107.83 474.81,108.22 475.81,108.57 476.82,108.88 477.82,109.15 478.82,109.37 479.82,109.53 480.83,109.65 481.83,109.71 482.83,109.72 483.84,109.67 484.84,109.58 485.84,109.43 486.85,109.23 487.85,108.98 488.85,108.68 489.86,108.34 490.86,107.97 491.86,107.55 492.87,107.1 493.87,106.63 494.87,106.13 495.88,105.61 496.88,105.08 497.88,104.54 498.88,103.99 499.89,103.45 500.89,102.91 501.89,102.39 502.9,101.88 503.9,101.4 504.93,101.72 505.97,102.02 507,102.28 508.03,102.5 509.07,102.65 510.1,102.75 511.13,102.77 512.17,102.73 513.2,102.61 514.23,102.44 515.27,102.21 516.3,101.94 517.33,101.63 518.37,101.3 519.4,100.97 520.41,100.77 521.42,100.57 522.43,100.38 523.43,100.21 524.44,100.05 525.45,99.92 526.46,99.8 527.47,99.71 528.48,99.64 529.49,99.6 530.5,99.59 531.5,99.61 532.51,99.65 533.52,99.72 534.53,99.82 535.54,99.94 536.55,100.08 537.56,100.24 538.57,100.42 539.57,100.61 540.58,100.8 541.59,101.01 542.6,101.21"/><polyline points="407.9,107.49 408.91,108.21 409.93,108.82 410.94,109.27 411.95,109.56 412.97,109.66 413.98,109.58 414.99,109.31 416.01,108.88 417.02,108.29 418.03,107.57 419.05,106.76 420.06,105.89 421.07,105 422.09,104.13 423.1,103.31 424.16,103.98 425.22,104.59 426.28,105.12 427.34,105.54 428.4,105.84 429.46,106.01 430.52,106.03 431.58,105.91 432.64,105.65 433.7,105.26 434.76,104.76 435.82,104.17 436.88,103.52 437.94,102.83 439,102.14 440.08,101.52 441.16,101.34 442.25,101.61 443.33,102.31 444.41,103.38 445.49,104.75 446.57,106.28 447.65,107.87 448.74,109.39 449.82,110.7 450.9,111.71 451.94,111.3 452.99,110.86 454.03,110.41 455.08,109.94 456.12,109.48 457.17,109.04 458.21,108.62 459.26,108.24 460.31,107.9 461.35,107.62 462.39,107.4 463.44,107.25 464.49,107.16 465.53,107.15 466.57,107.21 467.62,107.34 468.67,107.55 469.71,107.81 470.75,108.13 471.8,108.5 472.8,108.29 473.81,108.08 474.81,107.87 475.81,107.66 476.82,107.45 477.82,107.24 478.82,107.04 479.82,106.85 480.83,106.67 481.83,106.5 482.83,106.35 483.84,106.2 484.84,106.08 485.84,105.97 486.85,105.88 487.85,105.81 488.85,105.76 489.86,105.73 490.86,105.72 491.86,105.73 492.87,105.77 493.87,105.82 494.87,105.89 495.88,105.98 496.88,106.09 497.88,106.22 498.88,106.36 499.89,106.52 500.89,106.69 501.89,106.87 502.9,107.07 503.9,107.27 504.93,106.77 505.97,106.39 507,106.13 508.03,106.01 509.07,106.04 510.1,106.2 511.13,106.51 512.17,106.93 513.2,107.46 514.23,108.07 515.27,108.73 516.3,109.42 517.33,110.1 518.37,110.75 519.4,111.34 520.41,111.43 521.42,111.48 522.43,111.47 523.43,111.42 524.44,111.32 525.45,111.17 526.46,110.98 527.47,110.75 528.48,110.49 529.49,110.19 530.5,109.87 531.5,109.53 532.51,109.18 533.52,108.81 534.53,108.45 535.54,108.1 536.55,107.76 537.56,107.44 538.57,107.15 539.57,106.89 540.58,106.66 541.59,106.48 542.6,106.34"/><polyline points="407.9,106.89 408.91,106.75 409.93,106.64 410.94,106.58 411.95,106.57 412.97,106.61 413.98,106.69 414.99,106.82 416.01,106.99 417.02,107.18 418.03,107.4 419.05,107.64 420.06,107.87 421.07,108.1 422.09,108.31 423.1,108.49 424.16,109.33 425.22,110.06 426.28,110.67 427.34,111.12 428.4,111.39 429.46,111.47 430.52,111.36 431.58,111.05 432.64,110.58 433.7,109.95 434.76,109.19 435.82,108.34 436.88,107.43 437.94,106.51 439,105.61 440.08,105.77 441.16,106.24 442.25,106.97 443.33,107.9 444.41,108.97 445.49,110.08 446.57,111.14 447.65,112.07 448.74,112.79 449.82,113.25 450.9,113.4 451.94,113.42 452.99,113.36 454.03,113.24 455.08,113.06 456.12,112.81 457.17,112.51 458.21,112.17 459.26,111.78 460.31,111.37 461.35,110.94 462.39,110.5 463.44,110.06 464.49,109.64 465.53,109.24 466.57,108.88 467.62,108.56 468.67,108.29 469.71,108.07 470.75,107.92 471.8,107.84 472.8,107.86 473.81,107.89 474.81,107.93 475.81,107.97 476.82,108.01 477.82,108.06 478.82,108.11 479.82,108.16 480.83,108.21 481.83,108.27 482.83,108.32 483.84,108.38 484.84,108.43 485.84,108.49 486.85,108.54 487.85,108.59 488.85,108.64 489.86,108.69 490.86,108.74 491.86,108.78 492.87,108.81 493.87,108.85 494.87,108.87 495.88,108.89 496.88,108.91 497.88,108.92 498.88,108.93 499.89,108.93 500.89,108.93 501.89,108.92 502.9,108.9 503.9,108.88 504.93,107.89 505.97,106.98 507,106.17 508.03,105.51 509.07,105.03 510.1,104.74 511.13,104.66 512.17,104.79 513.2,105.12 514.23,105.65 515.27,106.35 516.3,107.18 517.33,108.12 518.37,109.12 519.4,110.13 520.41,110.07 521.42,110.03 522.43,110.03 523.43,110.06 524.44,110.12 525.45,110.21 526.46,110.32 527.47,110.47 528.48,110.64 529.49,110.83 530.5,111.03 531.5,111.25 532.51,111.48 533.52,111.71 534.53,111.94 535.54,112.17 536.55,112.4 537.56,112.61 538.57,112.8 539.57,112.97 540.58,113.12 541.59,113.25 542.6,113.34"/></g>
<line x1="407.9" y1="68" x2="542.6" y2="68" stroke="#ff2020" stroke-width="1.2" />
<rect x="39.3" y="125.7" width="134.7" height="103.5" stroke="#000" stroke-width="1.7" fill="none"/>
<line x1="107.3" y1="125.7" x2="107.3" y2="229.2" stroke="#000" stroke-width="1.4" />
<line x1="39.3" y1="125.9" x2="41.8" y2="125.9" stroke="#000" stroke-width="1.2" />
<line x1="171.5" y1="125.9" x2="174" y2="125.9" stroke="#000" stroke-width="1.2" />
<line x1="105.3" y1="125.9" x2="109.3" y2="125.9" stroke="#000" stroke-width="1.2" />
<text x="37" y="130.4" font-family='"Liberation Serif", serif' font-size="12.5" font-weight="bold" text-anchor="end" fill="#000" >4</text>
<line x1="39.3" y1="155.4" x2="41.8" y2="155.4" stroke="#000" stroke-width="1.2" />
<line x1="171.5" y1="155.4" x2="174" y2="155.4" stroke="#000" stroke-width="1.2" />
<line x1="105.3" y1="155.4" x2="109.3" y2="155.4" stroke="#000" stroke-width="1.2" />
<text x="37" y="159.9" font-family='"Liberation Serif", serif' font-size="12.5" font-weight="bold" text-anchor="end" fill="#000" >2</text>
<line x1="39.3" y1="184.9" x2="41.8" y2="184.9" stroke="#000" stroke-width="1.2" />
<line x1="171.5" y1="184.9" x2="174" y2="184.9" stroke="#000" stroke-width="1.2" />
<line x1="105.3" y1="184.9" x2="109.3" y2="184.9" stroke="#000" stroke-width="1.2" />
<text x="37" y="189.4" font-family='"Liberation Serif", serif' font-size="12.5" font-weight="bold" text-anchor="end" fill="#000" >0</text>
<line x1="39.3" y1="214.4" x2="41.8" y2="214.4" stroke="#000" stroke-width="1.2" />
<line x1="171.5" y1="214.4" x2="174" y2="214.4" stroke="#000" stroke-width="1.2" />
<line x1="105.3" y1="214.4" x2="109.3" y2="214.4" stroke="#000" stroke-width="1.2" />
<text x="37" y="218.9" font-family='"Liberation Serif", serif' font-size="12.5" font-weight="bold" text-anchor="end" fill="#000" >-2</text>
<line x1="39.3" y1="140.65" x2="41.1" y2="140.65" stroke="#000" stroke-width="1" />
<line x1="172.2" y1="140.65" x2="174" y2="140.65" stroke="#000" stroke-width="1" />
<line x1="39.3" y1="170.15" x2="41.1" y2="170.15" stroke="#000" stroke-width="1" />
<line x1="172.2" y1="170.15" x2="174" y2="170.15" stroke="#000" stroke-width="1" />
<line x1="39.3" y1="199.65" x2="41.1" y2="199.65" stroke="#000" stroke-width="1" />
<line x1="172.2" y1="199.65" x2="174" y2="199.65" stroke="#000" stroke-width="1" />
<line x1="53.5" y1="227.2" x2="53.5" y2="229.2" stroke="#000" stroke-width="1" />
<line x1="53.5" y1="125.7" x2="53.5" y2="127.7" stroke="#000" stroke-width="1" />
<line x1="80.8" y1="227.2" x2="80.8" y2="229.2" stroke="#000" stroke-width="1" />
<line x1="80.8" y1="125.7" x2="80.8" y2="127.7" stroke="#000" stroke-width="1" />
<line x1="134" y1="227.2" x2="134" y2="229.2" stroke="#000" stroke-width="1" />
<line x1="134" y1="125.7" x2="134" y2="127.7" stroke="#000" stroke-width="1" />
<line x1="161" y1="227.2" x2="161" y2="229.2" stroke="#000" stroke-width="1" />
<line x1="161" y1="125.7" x2="161" y2="127.7" stroke="#000" stroke-width="1" />
<text x="4.2" y="137.7" font-family='"Liberation Serif", serif' font-size="17" font-weight="bold" text-anchor="start" fill="#000" >(d)</text>
<text x="21.5" y="185.5" font-family='"Liberation Serif", serif' font-size="17" font-weight="bold" text-anchor="middle" fill="#000" transform="rotate(-90 21.5 185.5)"  textLength="77.5" lengthAdjust="spacingAndGlyphs">Energy (eV)</text>
<text x="53.5" y="242.5" font-family='"Liberation Serif", serif' font-size="11.5" font-weight="bold" text-anchor="middle" fill="#000" >20</text>
<text x="80.8" y="242.5" font-family='"Liberation Serif", serif' font-size="11.5" font-weight="bold" text-anchor="middle" fill="#000" >10</text>
<text x="107.3" y="242.5" font-family='"Liberation Serif", serif' font-size="11.5" font-weight="bold" text-anchor="middle" fill="#000" >0</text>
<text x="134" y="242.5" font-family='"Liberation Serif", serif' font-size="11.5" font-weight="bold" text-anchor="middle" fill="#000" >10</text>
<text x="160.5" y="242.5" font-family='"Liberation Serif", serif' font-size="11.5" font-weight="bold" text-anchor="middle" fill="#000" >20</text>
<line x1="39.3" y1="184.9" x2="174" y2="184.9" stroke="#000" stroke-width="1" stroke-dasharray="2.5,2"/>
<polyline points="107.3,126 106,128 100,130.5 85.51,131 91.45,132.55 76.22,134.02 102.01,135.6 75.94,137.11 104.11,138.88 87.07,140.2 94.86,141.98 70.69,143.07 96.39,144.98 87.96,146.59 98.85,147.65 88.71,148.75 105.44,150.02 88.55,151.49 101.02,153.3 79.26,154.92 97.02,156.57 63.13,157.87 93.83,159.82 86.92,161.5 102.58,162.76 84.12,163.87 98.19,165.28 87.1,166.68 106.52,168.49 98.39,169.73 107.3,171" fill="none" stroke="#ff1010" stroke-width="1.3" stroke-linejoin="round" />
<polyline points="107.3,202.5 100,203.6 84,205.2 96,206.5 98,207.5 82.86,208 85.54,209.78 71.23,210.83 87.62,212.16 74.22,213.25 91.97,214.61 78.97,215.97 86.52,217.02 72.14,218.35 90.19,219.95 68.26,220.98 86.72,222.45 66.65,223.96 87.62,225.24 81.41,226.53 101.72,228.06 107.3,229" fill="none" stroke="#ff1010" stroke-width="1.3" stroke-linejoin="round" />
<polyline points="107.27,127.93 107.93,128.58 121.02,129.24 157.66,129.89 121.02,130.54 117.09,132.12 118.4,132.9 110.54,134.21 109.89,137.09 111.85,140.36 117.09,142.72 133.45,143.63 121.02,144.29 107.93,144.29" fill="none" stroke="#1010ff" stroke-width="1.5" stroke-linejoin="round" />
<polyline points="104,184.13 105.38,185.23 159.79,186.2 124.66,187.58 108.13,189.64 108.13,194.46 117.09,195.84 118.46,197.91 131.55,200.66 152.21,200.66 130.17,202.04 126.04,203.69 167.36,204.52 115.02,205.48 117.77,206.86 108.13,208.93 108.13,213.75 120.53,215.54 138.44,216.09 116.4,217.88 108.13,221.32 108.13,224.08 117.77,225.45 126.04,227.52 117.77,228.21 108.13,228.9" fill="none" stroke="#1010ff" stroke-width="1.5" stroke-linejoin="round" />
<ellipse cx="76.7" cy="174" rx="10" ry="8.5" fill="none" stroke="#d0c8d0" stroke-width="0.5"/>
<line x1="60.37" y1="173.97" x2="57.23" y2="169.55" stroke="#f0a0c0" stroke-width="0.6" />
<line x1="60.37" y1="173.97" x2="57.23" y2="178.39" stroke="#f0a0c0" stroke-width="0.6" />
<line x1="60.37" y1="173.97" x2="63.86" y2="171.64" stroke="#f0a0c0" stroke-width="0.6" />
<line x1="60.37" y1="173.97" x2="63.86" y2="176.53" stroke="#f0a0c0" stroke-width="0.6" />
<line x1="70.85" y1="173.97" x2="67.94" y2="167.92" stroke="#f0a0c0" stroke-width="0.6" />
<line x1="70.85" y1="173.97" x2="67.94" y2="180.37" stroke="#f0a0c0" stroke-width="0.6" />
<line x1="70.85" y1="173.97" x2="74.69" y2="169.55" stroke="#f0a0c0" stroke-width="0.6" />
<line x1="81.91" y1="173.97" x2="78.42" y2="169.55" stroke="#f0a0c0" stroke-width="0.6" />
<line x1="70.85" y1="173.97" x2="74.69" y2="178.39" stroke="#f0a0c0" stroke-width="0.6" />
<line x1="81.91" y1="173.97" x2="78.42" y2="178.39" stroke="#f0a0c0" stroke-width="0.6" />
<line x1="81.91" y1="173.97" x2="84.82" y2="167.92" stroke="#f0a0c0" stroke-width="0.6" />
<line x1="81.91" y1="173.97" x2="84.82" y2="180.37" stroke="#f0a0c0" stroke-width="0.6" />
<line x1="92.62" y1="173.97" x2="89.13" y2="171.64" stroke="#f0a0c0" stroke-width="0.6" />
<line x1="92.62" y1="173.97" x2="89.13" y2="176.53" stroke="#f0a0c0" stroke-width="0.6" />
<line x1="92.62" y1="173.97" x2="95.88" y2="169.55" stroke="#f0a0c0" stroke-width="0.6" />
<line x1="92.62" y1="173.97" x2="95.88" y2="178.39" stroke="#f0a0c0" stroke-width="0.6" />
<circle cx="57.23" cy="169.55" r="1.2" fill="#e83838" stroke="none" stroke-width="1"/>
<circle cx="57.23" cy="178.39" r="1.2" fill="#e83838" stroke="none" stroke-width="1"/>
<circle cx="63.86" cy="171.64" r="1.2" fill="#e83838" stroke="none" stroke-width="1"/>
<circle cx="63.86" cy="176.53" r="1.2" fill="#e83838" stroke="none" stroke-width="1"/>
<circle cx="67.94" cy="167.92" r="1.2" fill="#e83838" stroke="none" stroke-width="1"/>
<circle cx="67.94" cy="180.37" r="1.2" fill="#e83838" stroke="none" stroke-width="1"/>
<circle cx="74.69" cy="169.55" r="1.2" fill="#e83838" stroke="none" stroke-width="1"/>
<circle cx="78.42" cy="169.55" r="1.2" fill="#e83838" stroke="none" stroke-width="1"/>
<circle cx="74.69" cy="178.39" r="1.2" fill="#e83838" stroke="none" stroke-width="1"/>
<circle cx="78.42" cy="178.39" r="1.2" fill="#e83838" stroke="none" stroke-width="1"/>
<circle cx="84.82" cy="167.92" r="1.2" fill="#e83838" stroke="none" stroke-width="1"/>
<circle cx="84.82" cy="180.37" r="1.2" fill="#e83838" stroke="none" stroke-width="1"/>
<circle cx="89.13" cy="171.64" r="1.2" fill="#e83838" stroke="none" stroke-width="1"/>
<circle cx="89.13" cy="176.53" r="1.2" fill="#e83838" stroke="none" stroke-width="1"/>
<circle cx="95.88" cy="169.55" r="1.2" fill="#e83838" stroke="none" stroke-width="1"/>
<circle cx="95.88" cy="178.39" r="1.2" fill="#e83838" stroke="none" stroke-width="1"/>
<circle cx="60.37" cy="173.97" r="2.1" fill="#22cc33" stroke="none" stroke-width="1"/>
<circle cx="70.85" cy="173.97" r="2.5" fill="#b030d8" stroke="none" stroke-width="1"/>
<circle cx="70.85" cy="173.97" r="1" fill="#f0c0f8" stroke="none" stroke-width="1"/>
<circle cx="81.91" cy="173.97" r="2.5" fill="#b030d8" stroke="none" stroke-width="1"/>
<circle cx="81.91" cy="173.97" r="1" fill="#f0c0f8" stroke="none" stroke-width="1"/>
<circle cx="92.62" cy="173.97" r="2.1" fill="#22cc33" stroke="none" stroke-width="1"/>
<line x1="46.98" y1="179.79" x2="52.81" y2="177.46" stroke="#30d040" stroke-width="0.8" />
<line x1="46.98" y1="179.79" x2="52.81" y2="184.45" stroke="#e05050" stroke-width="0.8" />
<circle cx="46.98" cy="179.79" r="0.8" fill="#3040c0" stroke="none" stroke-width="1"/>
<text x="53.31" y="176.46" font-family='"Liberation Serif", serif' font-size="3.2" font-weight="bold" text-anchor="start" fill="#555" >y</text>
<text x="43.78" y="179.79" font-family='"Liberation Serif", serif' font-size="3.2" font-weight="bold" text-anchor="start" fill="#555" >z</text>
<text x="52.81" y="185.45" font-family='"Liberation Serif", serif' font-size="3.2" font-weight="bold" text-anchor="start" fill="#555" >x</text>
<polygon points="121.27,155.03 149.62,155.03 163.8,177.72 135.45,177.72" fill="none" stroke="#c0c0c0" stroke-width="0.6"/>
<polygon points="149.62,155.03 163.8,177.72 135.45,177.72" fill="none" stroke="#e0b8a8" stroke-width="0.5"/>
<circle cx="144.72" cy="168.56" r="3" fill="none" stroke="#c8c8c8" stroke-width="0.5"/>
<circle cx="154.53" cy="168.56" r="3" fill="none" stroke="#c8c8c8" stroke-width="0.5"/>
<circle cx="140.35" cy="175.64" r="3" fill="none" stroke="#c8c8c8" stroke-width="0.5"/>
<circle cx="149.62" cy="175.64" r="3" fill="none" stroke="#c8c8c8" stroke-width="0.5"/>
<circle cx="158.89" cy="175.64" r="3" fill="none" stroke="#c8c8c8" stroke-width="0.5"/>
<circle cx="149.62" cy="161.47" r="3" fill="none" stroke="#c8c8c8" stroke-width="0.5"/>
<circle cx="121.27" cy="155.03" r="1.25" fill="#a8a8a8" stroke="none" stroke-width="1"/>
<circle cx="131.08" cy="155.03" r="1.25" fill="#a8a8a8" stroke="none" stroke-width="1"/>
<circle cx="140.35" cy="155.03" r="1.25" fill="#a8a8a8" stroke="none" stroke-width="1"/>
<circle cx="149.62" cy="155.03" r="1.25" fill="#a8a8a8" stroke="none" stroke-width="1"/>
<circle cx="126.18" cy="162.67" r="1.25" fill="#a8a8a8" stroke="none" stroke-width="1"/>
<circle cx="131.08" cy="170.3" r="1.25" fill="#a8a8a8" stroke="none" stroke-width="1"/>
<circle cx="135.45" cy="177.72" r="1.25" fill="#a8a8a8" stroke="none" stroke-width="1"/>
<circle cx="145.26" cy="177.72" r="1.25" fill="#a8a8a8" stroke="none" stroke-width="1"/>
<circle cx="154.53" cy="177.72" r="1.25" fill="#a8a8a8" stroke="none" stroke-width="1"/>
<circle cx="163.8" cy="177.72" r="1.25" fill="#a8a8a8" stroke="none" stroke-width="1"/>
<circle cx="154.53" cy="162.67" r="1.25" fill="#a8a8a8" stroke="none" stroke-width="1"/>
<circle cx="144.72" cy="162.67" r="1.25" fill="#a8a8a8" stroke="none" stroke-width="1"/>
<circle cx="140.35" cy="170.3" r="1.25" fill="#a8a8a8" stroke="none" stroke-width="1"/>
<circle cx="149.62" cy="170.3" r="1.25" fill="#a8a8a8" stroke="none" stroke-width="1"/>
<circle cx="158.89" cy="170.3" r="1.25" fill="#a8a8a8" stroke="none" stroke-width="1"/>
<polygon points="149.62,158.37 147.92,161.47 151.32,161.47" fill="#1f6fd0"/>
<polygon points="144.72,165.46 143.02,168.56 146.42,168.56" fill="#1f6fd0"/>
<polygon points="154.53,165.46 152.83,168.56 156.23,168.56" fill="#1f6fd0"/>
<polygon points="140.35,172.54 138.65,175.64 142.05,175.64" fill="#1f6fd0"/>
<polygon points="149.62,172.54 147.92,175.64 151.32,175.64" fill="#1f6fd0"/>
<polygon points="158.89,172.54 157.19,175.64 160.59,175.64" fill="#1f6fd0"/>
<line x1="117.45" y1="170.08" x2="121.27" y2="177.72" stroke="#30d040" stroke-width="0.9" />
<line x1="121.27" y1="177.72" x2="127.27" y2="177.72" stroke="#e06060" stroke-width="0.9" />
<circle cx="121.27" cy="177.72" r="0.9" fill="#3040c0" stroke="none" stroke-width="1"/>
<text x="116.45" y="169.58" font-family='"Liberation Serif", serif' font-size="3.2" font-weight="bold" text-anchor="start" fill="#555" >Y</text>
<text x="118.27" y="180.72" font-family='"Liberation Serif", serif' font-size="3.2" font-weight="bold" text-anchor="start" fill="#555" >Z</text>
<text x="127.77" y="180.72" font-family='"Liberation Serif", serif' font-size="3.2" font-weight="bold" text-anchor="start" fill="#555" >X</text>
<text x="107.6" y="258.5" font-family='"Liberation Serif", serif' font-size="14.5" font-weight="bold" text-anchor="middle" fill="#000" >DOS (states/eV)</text>
<rect x="227.3" y="130.9" width="135.4" height="104.7" stroke="#000" stroke-width="1.7" fill="none"/>
<line x1="227.3" y1="233.7" x2="229.8" y2="233.7" stroke="#000" stroke-width="1.1" />
<text x="225.5" y="236.7" font-family='"Liberation Serif", serif' font-size="8.5" font-weight="bold" text-anchor="end" fill="#000" >0.0</text>
<line x1="227.3" y1="208.02" x2="229.8" y2="208.02" stroke="#000" stroke-width="1.1" />
<text x="225.5" y="211.02" font-family='"Liberation Serif", serif' font-size="8.5" font-weight="bold" text-anchor="end" fill="#000" >0.2</text>
<line x1="227.3" y1="182.34" x2="229.8" y2="182.34" stroke="#000" stroke-width="1.1" />
<text x="225.5" y="185.34" font-family='"Liberation Serif", serif' font-size="8.5" font-weight="bold" text-anchor="end" fill="#000" >0.4</text>
<line x1="227.3" y1="156.66" x2="229.8" y2="156.66" stroke="#000" stroke-width="1.1" />
<text x="225.5" y="159.66" font-family='"Liberation Serif", serif' font-size="8.5" font-weight="bold" text-anchor="end" fill="#000" >0.6</text>
<line x1="227.3" y1="130.98" x2="229.8" y2="130.98" stroke="#000" stroke-width="1.1" />
<text x="225.5" y="133.98" font-family='"Liberation Serif", serif' font-size="8.5" font-weight="bold" text-anchor="end" fill="#000" >0.8</text>
<line x1="227.3" y1="220.86" x2="228.8" y2="220.86" stroke="#000" stroke-width="0.9" />
<line x1="227.3" y1="195.18" x2="228.8" y2="195.18" stroke="#000" stroke-width="0.9" />
<line x1="227.3" y1="169.5" x2="228.8" y2="169.5" stroke="#000" stroke-width="0.9" />
<line x1="227.3" y1="143.82" x2="228.8" y2="143.82" stroke="#000" stroke-width="0.9" />
<line x1="227.4" y1="233.1" x2="227.4" y2="235.6" stroke="#000" stroke-width="1" />
<text x="227.4" y="245.8" font-family='"Liberation Serif", serif' font-size="8.6" font-weight="bold" text-anchor="middle" fill="#000"  textLength="4.6" lengthAdjust="spacingAndGlyphs">0</text>
<line x1="242.36" y1="233.1" x2="242.36" y2="235.6" stroke="#000" stroke-width="1" />
<text x="242.36" y="245.8" font-family='"Liberation Serif", serif' font-size="8.6" font-weight="bold" text-anchor="middle" fill="#000"  textLength="9" lengthAdjust="spacingAndGlyphs">50</text>
<line x1="257.31" y1="233.1" x2="257.31" y2="235.6" stroke="#000" stroke-width="1" />
<text x="257.31" y="245.8" font-family='"Liberation Serif", serif' font-size="8.6" font-weight="bold" text-anchor="middle" fill="#000"  textLength="12.3" lengthAdjust="spacingAndGlyphs">100</text>
<line x1="272.26" y1="233.1" x2="272.26" y2="235.6" stroke="#000" stroke-width="1" />
<text x="272.26" y="245.8" font-family='"Liberation Serif", serif' font-size="8.6" font-weight="bold" text-anchor="middle" fill="#000"  textLength="12.3" lengthAdjust="spacingAndGlyphs">150</text>
<line x1="287.22" y1="233.1" x2="287.22" y2="235.6" stroke="#000" stroke-width="1" />
<text x="287.22" y="245.8" font-family='"Liberation Serif", serif' font-size="8.6" font-weight="bold" text-anchor="middle" fill="#000"  textLength="12.3" lengthAdjust="spacingAndGlyphs">200</text>
<line x1="302.18" y1="233.1" x2="302.18" y2="235.6" stroke="#000" stroke-width="1" />
<text x="302.18" y="245.8" font-family='"Liberation Serif", serif' font-size="8.6" font-weight="bold" text-anchor="middle" fill="#000"  textLength="12.3" lengthAdjust="spacingAndGlyphs">250</text>
<line x1="317.13" y1="233.1" x2="317.13" y2="235.6" stroke="#000" stroke-width="1" />
<text x="317.13" y="245.8" font-family='"Liberation Serif", serif' font-size="8.6" font-weight="bold" text-anchor="middle" fill="#000"  textLength="12.3" lengthAdjust="spacingAndGlyphs">300</text>
<line x1="332.08" y1="233.1" x2="332.08" y2="235.6" stroke="#000" stroke-width="1" />
<text x="332.08" y="245.8" font-family='"Liberation Serif", serif' font-size="8.6" font-weight="bold" text-anchor="middle" fill="#000"  textLength="12.3" lengthAdjust="spacingAndGlyphs">350</text>
<line x1="347.04" y1="233.1" x2="347.04" y2="235.6" stroke="#000" stroke-width="1" />
<text x="347.04" y="245.8" font-family='"Liberation Serif", serif' font-size="8.6" font-weight="bold" text-anchor="middle" fill="#000"  textLength="12.3" lengthAdjust="spacingAndGlyphs">400</text>
<line x1="362" y1="233.1" x2="362" y2="235.6" stroke="#000" stroke-width="1" />
<text x="362" y="245.8" font-family='"Liberation Serif", serif' font-size="8.6" font-weight="bold" text-anchor="middle" fill="#000"  textLength="12.3" lengthAdjust="spacingAndGlyphs">450</text>
<line x1="234.88" y1="234.1" x2="234.88" y2="235.6" stroke="#000" stroke-width="0.9" />
<line x1="249.83" y1="234.1" x2="249.83" y2="235.6" stroke="#000" stroke-width="0.9" />
<line x1="264.79" y1="234.1" x2="264.79" y2="235.6" stroke="#000" stroke-width="0.9" />
<line x1="279.74" y1="234.1" x2="279.74" y2="235.6" stroke="#000" stroke-width="0.9" />
<line x1="294.7" y1="234.1" x2="294.7" y2="235.6" stroke="#000" stroke-width="0.9" />
<line x1="309.65" y1="234.1" x2="309.65" y2="235.6" stroke="#000" stroke-width="0.9" />
<line x1="324.61" y1="234.1" x2="324.61" y2="235.6" stroke="#000" stroke-width="0.9" />
<line x1="339.56" y1="234.1" x2="339.56" y2="235.6" stroke="#000" stroke-width="0.9" />
<line x1="354.52" y1="234.1" x2="354.52" y2="235.6" stroke="#000" stroke-width="0.9" />
<text x="181.3" y="136.6" font-family='"Liberation Serif", serif' font-size="17" font-weight="bold" text-anchor="start" fill="#000" >(e)</text>
<text x="212" y="190" font-family='"Liberation Serif", serif' font-size="10.5" font-weight="bold" text-anchor="middle" fill="#000" transform="rotate(-90 212 190)" >Current density (μA·cm<tspan font-size="6" dy="-4">-2</tspan><tspan dy="4">)</tspan></text>
<text x="296.3" y="256.5" font-family='"Liberation Serif", serif' font-size="11.5" font-weight="bold" text-anchor="middle" fill="#000"  textLength="59" lengthAdjust="spacingAndGlyphs">Time (second)</text>
<text x="259" y="142.8" font-family='"Liberation Serif", serif' font-size="7.8" font-weight="bold" text-anchor="start" fill="#000" xml:space="preserve">(1) BiVO<tspan font-size="5" dy="2">4</tspan><tspan dy="-2">     (2) g-C</tspan><tspan font-size="5" dy="2">3</tspan><tspan dy="-2">N</tspan><tspan font-size="5" dy="2">4</tspan></text>
<text x="259" y="156" font-family='"Liberation Serif", serif' font-size="7.8" font-weight="bold" text-anchor="start" fill="#000" >(3) g-C<tspan font-size="5" dy="2">3</tspan><tspan dy="-2">N</tspan><tspan font-size="5" dy="2">4</tspan><tspan dy="-2">/BiVO</tspan><tspan font-size="5" dy="2">4</tspan><tspan dy="-2">(30%)</tspan></text>
<text x="281" y="172.5" font-family='"Liberation Serif", serif' font-size="7.8" font-weight="bold" text-anchor="middle" fill="#000" >(3)</text>
<text x="281" y="198" font-family='"Liberation Serif", serif' font-size="7.8" font-weight="bold" text-anchor="middle" fill="#000" >(2)</text>
<text x="281" y="213" font-family='"Liberation Serif", serif' font-size="7.8" font-weight="bold" text-anchor="middle" fill="#000" >(1)</text>
<clipPath id="ce"><rect x="227.3" y="130.9" width="135.39999999999998" height="104.69999999999999"/></clipPath>
<g clip-path="url(#ce)" fill="none" stroke-width="1.9" stroke-linejoin="round"><polyline stroke="#ff2020" points="227.4,219.58 227.7,221.25 228,222.7 228.3,223.96 228.6,225.05 229.19,226.82 229.79,228.15 230.39,229.14 231.29,230.19 232.19,230.88 233.38,231.44 234.88,231.81 236.37,231.99 237.87,232.07 239.36,232.12 240.86,232.14 242.36,232.15 242.44,232.15 242.8,192.75 243.25,167.68 243.85,160.88 244.6,160.51 245.94,161.92 247.14,162.89 248.34,163.7 249.53,164.42 250.73,165.06 251.93,165.67 253.12,166.26 254.32,166.83 255.52,167.39 256.71,167.94 257.31,168.22 257.76,187.86 258.21,228.82 258.81,229.59 259.7,230.46 260.9,231.26 262.39,231.86 264.19,232.26 266.28,232.48 268.68,232.59 272.26,232.65 272.35,232.65 272.71,199.33 273.16,178.13 273.76,172.38 274.51,172.07 275.85,172.54 277.05,172.86 278.25,173.13 279.44,173.37 280.64,173.59 281.84,173.79 283.03,173.98 284.23,174.17 285.43,174.36 286.62,174.54 287.22,174.64 287.67,192.36 288.12,229.08 288.72,229.85 289.61,230.72 290.81,231.51 292.3,232.12 294.1,232.51 296.19,232.74 298.59,232.85 302.18,232.91 302.26,232.91 302.62,202.98 303.07,183.93 303.67,178.76 304.42,178.49 305.76,178.96 306.96,179.28 308.16,179.55 309.35,179.79 310.55,180.01 311.75,180.21 312.94,180.4 314.14,180.59 315.34,180.78 316.53,180.96 317.13,181.06 317.58,196.85 318.03,229.21 318.63,229.97 319.52,230.85 320.72,231.64 322.21,232.24 324.01,232.64 326.1,232.87 328.5,232.98 332.08,233.04 332.17,233.04 332.53,204.8 332.98,186.83 333.58,181.96 334.33,181.7 335.67,182.05 336.87,182.29 338.07,182.5 339.26,182.67 340.46,182.84 341.66,182.99 342.85,183.13 344.05,183.28 345.25,183.42 346.44,183.56 347.04,183.62 347.49,198.65 347.94,229.21 348.54,229.97 349.43,230.85 350.63,231.64 352.12,232.24 353.92,232.64 356.01,232.87 358.41,232.98 362,233.04"/><polyline stroke="#000000" points="227.4,218.29 227.7,219.97 228,221.42 228.3,222.68 228.6,223.77 229.19,225.54 229.79,226.86 230.39,227.86 231.29,228.91 232.19,229.6 233.38,230.15 234.88,230.52 236.37,230.7 237.87,230.79 239.36,230.83 240.86,230.85 242.36,230.87 242.44,230.87 242.8,218.3 243.25,210.3 243.85,208.15 244.6,208.02 245.94,207.95 247.14,207.67 248.34,208.85 249.53,209.97 250.73,210.3 251.93,210.6 253.12,210.89 254.32,211.18 255.52,211.46 256.71,211.73 257.31,211.87 257.76,218.42 258.21,228.56 258.81,229.08 259.7,229.66 260.9,230.19 262.39,230.59 264.19,230.85 266.28,231 268.68,231.08 272.26,231.12 272.35,231.12 272.71,221.24 273.16,214.95 273.76,213.26 274.51,213.16 275.85,213.27 277.05,213.35 278.25,213.42 279.44,213.48 280.64,213.54 281.84,213.59 283.03,213.63 284.23,213.68 285.43,213.73 286.62,213.78 287.22,213.8 287.67,219.77 288.12,228.82 288.72,229.33 289.61,229.92 290.81,230.44 292.3,230.85 294.1,231.11 296.19,231.26 298.59,231.34 302.18,231.37 302.26,231.37 302.62,222.77 303.07,217.29 303.67,215.81 304.42,215.72 305.76,215.84 306.96,215.92 308.16,215.99 309.35,216.05 310.55,216.1 311.75,216.15 312.94,216.2 314.14,216.25 315.34,216.3 316.53,216.34 317.13,216.37 317.58,221.57 318.03,229.08 318.63,229.59 319.52,230.17 320.72,230.7 322.21,231.1 324.01,231.37 326.1,231.52 328.5,231.59 332.08,231.63 332.17,231.63 332.53,223.94 332.98,219.05 333.58,217.73 334.33,217.65 335.67,217.65 336.87,217.65 338.07,217.65 339.26,217.65 340.46,217.65 341.66,217.65 342.85,217.65 344.05,217.65 345.25,217.65 346.44,217.65 347.04,217.65 347.49,222.46 347.94,229.33 348.54,229.85 349.43,230.43 350.63,230.96 352.12,231.36 353.92,231.62 356.01,231.77 358.41,231.85 362,231.89"/><polyline stroke="#2020ff" points="227.4,222.79 227.7,223.81 228,224.7 228.3,225.47 228.6,226.14 229.19,227.22 229.79,228.03 230.39,228.64 231.29,229.29 232.19,229.71 233.38,230.05 234.88,230.27 236.37,230.38 237.87,230.44 239.36,230.46 240.86,230.48 242.36,230.48 242.44,230.48 242.8,209.65 243.25,196.4 243.85,192.82 244.6,192.61 245.94,193.32 247.14,193.8 248.34,194.21 249.53,194.56 250.73,194.89 251.93,195.19 253.12,195.48 254.32,195.77 255.52,196.05 256.71,196.33 257.31,196.46 257.76,207.63 258.21,227.92 258.81,228.56 259.7,229.29 260.9,229.95 262.39,230.45 264.19,230.78 266.28,230.97 268.68,231.07 272.26,231.11 272.35,231.11 272.71,213.47 273.16,202.24 273.76,199.21 274.51,199.03 275.85,199.27 277.05,199.43 278.25,199.56 279.44,199.68 280.64,199.79 281.84,199.89 283.03,199.99 284.23,200.08 285.43,200.18 286.62,200.27 287.22,200.32 287.67,210.33 288.12,227.92 288.72,228.56 289.61,229.29 290.81,229.95 292.3,230.45 294.1,230.78 296.19,230.97 298.59,231.07 302.18,231.11 302.26,231.11 302.62,214.88 303.07,204.55 303.67,201.76 304.42,201.6 305.76,201.83 306.96,202 308.16,202.13 309.35,202.25 310.55,202.36 311.75,202.46 312.94,202.56 314.14,202.65 315.34,202.75 316.53,202.84 317.13,202.88 317.58,212.13 318.03,228.18 318.63,228.82 319.52,229.55 320.72,230.21 322.21,230.71 324.01,231.04 326.1,231.23 328.5,231.32 332.08,231.37 332.17,231.37 332.53,216.41 332.98,206.89 333.58,204.32 334.33,204.17 335.67,204.29 336.87,204.37 338.07,204.43 339.26,204.49 340.46,204.55 341.66,204.6 342.85,204.65 344.05,204.69 345.25,204.74 346.44,204.79 347.04,204.81 347.49,213.48 347.94,228.44 348.54,229.08 349.43,229.8 350.63,230.46 352.12,230.97 353.92,231.3 356.01,231.49 358.41,231.58 362,231.63"/></g>
<rect x="412.3" y="132.4" width="132.9" height="106.7" stroke="#222" stroke-width="1" fill="none"/>
<line x1="412.3" y1="239.1" x2="414.3" y2="239.1" stroke="#222" stroke-width="0.9" />
<text x="409.8" y="241.2" font-family='"Liberation Serif", serif' font-size="6.2" font-weight="bold" text-anchor="end" fill="#444"  textLength="10" lengthAdjust="spacingAndGlyphs">0.00</text>
<line x1="412.3" y1="225.76" x2="414.3" y2="225.76" stroke="#222" stroke-width="0.9" />
<text x="409.8" y="227.86" font-family='"Liberation Serif", serif' font-size="6.2" font-weight="bold" text-anchor="end" fill="#444"  textLength="10" lengthAdjust="spacingAndGlyphs">0.25</text>
<line x1="412.3" y1="212.42" x2="414.3" y2="212.42" stroke="#222" stroke-width="0.9" />
<text x="409.8" y="214.52" font-family='"Liberation Serif", serif' font-size="6.2" font-weight="bold" text-anchor="end" fill="#444"  textLength="10" lengthAdjust="spacingAndGlyphs">0.50</text>
<line x1="412.3" y1="199.09" x2="414.3" y2="199.09" stroke="#222" stroke-width="0.9" />
<text x="409.8" y="201.19" font-family='"Liberation Serif", serif' font-size="6.2" font-weight="bold" text-anchor="end" fill="#444"  textLength="10" lengthAdjust="spacingAndGlyphs">0.75</text>
<line x1="412.3" y1="185.75" x2="414.3" y2="185.75" stroke="#222" stroke-width="0.9" />
<text x="409.8" y="187.85" font-family='"Liberation Serif", serif' font-size="6.2" font-weight="bold" text-anchor="end" fill="#444"  textLength="10" lengthAdjust="spacingAndGlyphs">1.00</text>
<line x1="412.3" y1="172.41" x2="414.3" y2="172.41" stroke="#222" stroke-width="0.9" />
<text x="409.8" y="174.51" font-family='"Liberation Serif", serif' font-size="6.2" font-weight="bold" text-anchor="end" fill="#444"  textLength="10" lengthAdjust="spacingAndGlyphs">1.25</text>
<line x1="412.3" y1="159.07" x2="414.3" y2="159.07" stroke="#222" stroke-width="0.9" />
<text x="409.8" y="161.17" font-family='"Liberation Serif", serif' font-size="6.2" font-weight="bold" text-anchor="end" fill="#444"  textLength="10" lengthAdjust="spacingAndGlyphs">1.50</text>
<line x1="412.3" y1="145.74" x2="414.3" y2="145.74" stroke="#222" stroke-width="0.9" />
<text x="409.8" y="147.84" font-family='"Liberation Serif", serif' font-size="6.2" font-weight="bold" text-anchor="end" fill="#444"  textLength="10" lengthAdjust="spacingAndGlyphs">1.75</text>
<line x1="412.3" y1="132.4" x2="414.3" y2="132.4" stroke="#222" stroke-width="0.9" />
<text x="409.8" y="134.5" font-family='"Liberation Serif", serif' font-size="6.2" font-weight="bold" text-anchor="end" fill="#444"  textLength="10" lengthAdjust="spacingAndGlyphs">2.00</text>
<line x1="412.5" y1="237.1" x2="412.5" y2="239.1" stroke="#222" stroke-width="0.9" />
<text x="412.5" y="247.2" font-family='"Liberation Serif", serif' font-size="6.2" font-weight="bold" text-anchor="middle" fill="#444"  textLength="9.5" lengthAdjust="spacingAndGlyphs">-1.0</text>
<line x1="428.08" y1="237.1" x2="428.08" y2="239.1" stroke="#222" stroke-width="0.9" />
<text x="428.08" y="247.2" font-family='"Liberation Serif", serif' font-size="6.2" font-weight="bold" text-anchor="middle" fill="#444"  textLength="9.5" lengthAdjust="spacingAndGlyphs">-0.8</text>
<line x1="443.66" y1="237.1" x2="443.66" y2="239.1" stroke="#222" stroke-width="0.9" />
<text x="443.66" y="247.2" font-family='"Liberation Serif", serif' font-size="6.2" font-weight="bold" text-anchor="middle" fill="#444"  textLength="9.5" lengthAdjust="spacingAndGlyphs">-0.6</text>
<line x1="459.24" y1="237.1" x2="459.24" y2="239.1" stroke="#222" stroke-width="0.9" />
<text x="459.24" y="247.2" font-family='"Liberation Serif", serif' font-size="6.2" font-weight="bold" text-anchor="middle" fill="#444"  textLength="9.5" lengthAdjust="spacingAndGlyphs">-0.4</text>
<line x1="474.82" y1="237.1" x2="474.82" y2="239.1" stroke="#222" stroke-width="0.9" />
<text x="474.82" y="247.2" font-family='"Liberation Serif", serif' font-size="6.2" font-weight="bold" text-anchor="middle" fill="#444"  textLength="9.5" lengthAdjust="spacingAndGlyphs">-0.2</text>
<line x1="490.4" y1="237.1" x2="490.4" y2="239.1" stroke="#222" stroke-width="0.9" />
<text x="490.4" y="247.2" font-family='"Liberation Serif", serif' font-size="6.2" font-weight="bold" text-anchor="middle" fill="#444"  textLength="8" lengthAdjust="spacingAndGlyphs">0.0</text>
<line x1="505.98" y1="237.1" x2="505.98" y2="239.1" stroke="#222" stroke-width="0.9" />
<text x="505.98" y="247.2" font-family='"Liberation Serif", serif' font-size="6.2" font-weight="bold" text-anchor="middle" fill="#444"  textLength="8" lengthAdjust="spacingAndGlyphs">0.2</text>
<line x1="521.56" y1="237.1" x2="521.56" y2="239.1" stroke="#222" stroke-width="0.9" />
<text x="521.56" y="247.2" font-family='"Liberation Serif", serif' font-size="6.2" font-weight="bold" text-anchor="middle" fill="#444"  textLength="8" lengthAdjust="spacingAndGlyphs">0.4</text>
<line x1="537.14" y1="237.1" x2="537.14" y2="239.1" stroke="#222" stroke-width="0.9" />
<text x="537.14" y="247.2" font-family='"Liberation Serif", serif' font-size="6.2" font-weight="bold" text-anchor="middle" fill="#444"  textLength="8" lengthAdjust="spacingAndGlyphs">0.6</text>
<text x="371.3" y="140.3" font-family='"Liberation Serif", serif' font-size="17" font-weight="bold" text-anchor="start" fill="#000" >(f)</text>
<text x="479.7" y="257.8" font-family='"Liberation Serif", serif' font-size="8.4" font-weight="bold" text-anchor="middle" fill="#222"  textLength="103" lengthAdjust="spacingAndGlyphs">Applied potential (V <tspan font-style="italic">vs.</tspan> Ag/AgCl)</text>
<text x="394" y="183" font-family='"Liberation Serif", serif' font-size="9.2" font-weight="bold" text-anchor="middle" fill="#222" transform="rotate(-90 394 183)"  textLength="57" lengthAdjust="spacingAndGlyphs">1/C<tspan font-size="5" dy="-3">2</tspan><tspan dy="3">x10</tspan><tspan font-size="5" dy="-3">10</tspan><tspan dy="3"> (F</tspan><tspan font-size="5" dy="-3">2</tspan><tspan dy="3">cm</tspan><tspan font-size="5" dy="-3">4</tspan><tspan dy="3">)</tspan></text>
<line x1="432.5" y1="146.3" x2="443.4" y2="146.3" stroke="#333333" stroke-width="1.2" />
<circle cx="437.8" cy="146.3" r="1.8" fill="#fff" stroke="#333333" stroke-width="0.8"/>
<text x="445.5" y="148.3" font-family='"Liberation Serif", serif' font-size="5.6" font-weight="bold" text-anchor="start" fill="#222"  textLength="25" lengthAdjust="spacingAndGlyphs">BiVO<tspan font-size="3.5" dy="1.5">4</tspan><tspan dy="-1.5">/SCN</tspan></text>
<line x1="432.5" y1="153.9" x2="443.4" y2="153.9" stroke="#e03030" stroke-width="1.2" />
<circle cx="437.8" cy="153.9" r="1.8" fill="#fff" stroke="#e03030" stroke-width="0.8"/>
<text x="445.5" y="155.9" font-family='"Liberation Serif", serif' font-size="5.6" font-weight="bold" text-anchor="start" fill="#222"  textLength="40" lengthAdjust="spacingAndGlyphs">Bi<tspan font-size="3.5" dy="1.5">0.7</tspan><tspan dy="-1.5">Fe</tspan><tspan font-size="3.5" dy="1.5">0.3</tspan><tspan dy="-1.5">VO</tspan><tspan font-size="3.5" dy="1.5">4</tspan><tspan dy="-1.5">/SCN</tspan></text>
<line x1="432.5" y1="161.5" x2="443.4" y2="161.5" stroke="#55dd33" stroke-width="1.2" />
<circle cx="437.8" cy="161.5" r="1.8" fill="#fff" stroke="#55dd33" stroke-width="0.8"/>
<text x="445.5" y="163.5" font-family='"Liberation Serif", serif' font-size="5.6" font-weight="bold" text-anchor="start" fill="#222"  textLength="40" lengthAdjust="spacingAndGlyphs">Bi<tspan font-size="3.5" dy="1.5">0.5</tspan><tspan dy="-1.5">Fe</tspan><tspan font-size="3.5" dy="1.5">0.5</tspan><tspan dy="-1.5">VO</tspan><tspan font-size="3.5" dy="1.5">4</tspan><tspan dy="-1.5">/SCN</tspan></text>
<line x1="432.5" y1="169.1" x2="443.4" y2="169.1" stroke="#3a3ae0" stroke-width="1.2" />
<circle cx="437.8" cy="169.1" r="1.8" fill="#fff" stroke="#3a3ae0" stroke-width="0.8"/>
<text x="445.5" y="171.1" font-family='"Liberation Serif", serif' font-size="5.6" font-weight="bold" text-anchor="start" fill="#222"  textLength="40" lengthAdjust="spacingAndGlyphs">Bi<tspan font-size="3.5" dy="1.5">0.3</tspan><tspan dy="-1.5">Fe</tspan><tspan font-size="3.5" dy="1.5">0.7</tspan><tspan dy="-1.5">VO</tspan><tspan font-size="3.5" dy="1.5">4</tspan><tspan dy="-1.5">/SCN</tspan></text>
<line x1="432.5" y1="176.7" x2="443.4" y2="176.7" stroke="#3a9a9a" stroke-width="1.2" />
<circle cx="437.8" cy="176.7" r="1.8" fill="#fff" stroke="#3a9a9a" stroke-width="0.8"/>
<text x="445.5" y="178.7" font-family='"Liberation Serif", serif' font-size="5.6" font-weight="bold" text-anchor="start" fill="#222"  textLength="25" lengthAdjust="spacingAndGlyphs">FeVO<tspan font-size="3.5" dy="1.5">4</tspan><tspan dy="-1.5">/SCN</tspan></text>
<clipPath id="cf"><rect x="412.3" y="132.4" width="132.90000000000003" height="106.69999999999999"/></clipPath>
<g clip-path="url(#cf)" fill="none"><line x1="467.03" y1="239.1" x2="491.96" y2="193.22" stroke="#333" stroke-width="0.6" stroke-dasharray="1.5,1"/><line x1="469.37" y1="239.1" x2="498.19" y2="181.48" stroke="#e03030" stroke-width="0.6" stroke-dasharray="1.5,1"/><line x1="442.1" y1="239.1" x2="480.27" y2="204.96" stroke="#55dd33" stroke-width="0.6" stroke-dasharray="1.5,1"/><line x1="463.13" y1="239.1" x2="497.41" y2="186.28" stroke="#3a3ae0" stroke-width="0.6" stroke-dasharray="1.5,1"/><line x1="437.43" y1="239.1" x2="469.37" y2="203.36" stroke="#3a9a9a" stroke-width="0.6" stroke-dasharray="1.5,1"/><polyline stroke="#333333" stroke-width="0.8" points="428.08,216.16 431.97,216.52 435.87,216.88 439.76,217.14 443.66,217.23 447.56,217.18 451.45,217.03 455.34,216.58 459.24,215.63 463.13,214.09 467.03,212.07 470.92,209.69 474.82,207.09 478.71,204.46 482.61,201.73 486.5,198.65 490.4,194.95 494.29,190.2 498.19,184.37 502.08,177.95 505.98,171.27"/><circle cx="428.08" cy="216.16" r="1.95" stroke="#333333" stroke-width="0.85"/><circle cx="431.97" cy="216.52" r="1.95" stroke="#333333" stroke-width="0.85"/><circle cx="435.87" cy="216.88" r="1.95" stroke="#333333" stroke-width="0.85"/><circle cx="439.76" cy="217.14" r="1.95" stroke="#333333" stroke-width="0.85"/><circle cx="443.66" cy="217.23" r="1.95" stroke="#333333" stroke-width="0.85"/><circle cx="447.56" cy="217.18" r="1.95" stroke="#333333" stroke-width="0.85"/><circle cx="451.45" cy="217.03" r="1.95" stroke="#333333" stroke-width="0.85"/><circle cx="455.34" cy="216.58" r="1.95" stroke="#333333" stroke-width="0.85"/><circle cx="459.24" cy="215.63" r="1.95" stroke="#333333" stroke-width="0.85"/><circle cx="463.13" cy="214.09" r="1.95" stroke="#333333" stroke-width="0.85"/><circle cx="467.03" cy="212.07" r="1.95" stroke="#333333" stroke-width="0.85"/><circle cx="470.92" cy="209.69" r="1.95" stroke="#333333" stroke-width="0.85"/><circle cx="474.82" cy="207.09" r="1.95" stroke="#333333" stroke-width="0.85"/><circle cx="478.71" cy="204.46" r="1.95" stroke="#333333" stroke-width="0.85"/><circle cx="482.61" cy="201.73" r="1.95" stroke="#333333" stroke-width="0.85"/><circle cx="486.5" cy="198.65" r="1.95" stroke="#333333" stroke-width="0.85"/><circle cx="490.4" cy="194.95" r="1.95" stroke="#333333" stroke-width="0.85"/><circle cx="494.29" cy="190.2" r="1.95" stroke="#333333" stroke-width="0.85"/><circle cx="498.19" cy="184.37" r="1.95" stroke="#333333" stroke-width="0.85"/><circle cx="502.08" cy="177.95" r="1.95" stroke="#333333" stroke-width="0.85"/><circle cx="505.98" cy="171.27" r="1.95" stroke="#333333" stroke-width="0.85"/><polyline stroke="#e03030" stroke-width="0.8" points="428.08,211.89 431.97,212.46 435.87,213.03 439.76,213.56 443.66,214.03 447.56,214.52 451.45,215.03 455.34,215.3 459.24,215.09 463.13,214.35 467.03,213.22 470.92,211.7 474.82,209.76 478.71,207.31 482.61,204.37 486.5,200.92 490.4,196.76 494.29,191.23 498.19,184.68 502.08,177.21 505.98,169.74 509.88,163.74 513.77,159.07 517.66,155.29 521.56,151.99 525.45,148.98 529.35,146.21 533.25,143.62 537.14,141.1 541.03,138.62 544.93,136.13"/><circle cx="428.08" cy="211.89" r="1.95" stroke="#e03030" stroke-width="0.85"/><circle cx="431.97" cy="212.46" r="1.95" stroke="#e03030" stroke-width="0.85"/><circle cx="435.87" cy="213.03" r="1.95" stroke="#e03030" stroke-width="0.85"/><circle cx="439.76" cy="213.56" r="1.95" stroke="#e03030" stroke-width="0.85"/><circle cx="443.66" cy="214.03" r="1.95" stroke="#e03030" stroke-width="0.85"/><circle cx="447.56" cy="214.52" r="1.95" stroke="#e03030" stroke-width="0.85"/><circle cx="451.45" cy="215.03" r="1.95" stroke="#e03030" stroke-width="0.85"/><circle cx="455.34" cy="215.3" r="1.95" stroke="#e03030" stroke-width="0.85"/><circle cx="459.24" cy="215.09" r="1.95" stroke="#e03030" stroke-width="0.85"/><circle cx="463.13" cy="214.35" r="1.95" stroke="#e03030" stroke-width="0.85"/><circle cx="467.03" cy="213.22" r="1.95" stroke="#e03030" stroke-width="0.85"/><circle cx="470.92" cy="211.7" r="1.95" stroke="#e03030" stroke-width="0.85"/><circle cx="474.82" cy="209.76" r="1.95" stroke="#e03030" stroke-width="0.85"/><circle cx="478.71" cy="207.31" r="1.95" stroke="#e03030" stroke-width="0.85"/><circle cx="482.61" cy="204.37" r="1.95" stroke="#e03030" stroke-width="0.85"/><circle cx="486.5" cy="200.92" r="1.95" stroke="#e03030" stroke-width="0.85"/><circle cx="490.4" cy="196.76" r="1.95" stroke="#e03030" stroke-width="0.85"/><circle cx="494.29" cy="191.23" r="1.95" stroke="#e03030" stroke-width="0.85"/><circle cx="498.19" cy="184.68" r="1.95" stroke="#e03030" stroke-width="0.85"/><circle cx="502.08" cy="177.21" r="1.95" stroke="#e03030" stroke-width="0.85"/><circle cx="505.98" cy="169.74" r="1.95" stroke="#e03030" stroke-width="0.85"/><circle cx="509.88" cy="163.74" r="1.95" stroke="#e03030" stroke-width="0.85"/><circle cx="513.77" cy="159.07" r="1.95" stroke="#e03030" stroke-width="0.85"/><circle cx="517.66" cy="155.29" r="1.95" stroke="#e03030" stroke-width="0.85"/><circle cx="521.56" cy="151.99" r="1.95" stroke="#e03030" stroke-width="0.85"/><circle cx="525.45" cy="148.98" r="1.95" stroke="#e03030" stroke-width="0.85"/><circle cx="529.35" cy="146.21" r="1.95" stroke="#e03030" stroke-width="0.85"/><circle cx="533.25" cy="143.62" r="1.95" stroke="#e03030" stroke-width="0.85"/><circle cx="537.14" cy="141.1" r="1.95" stroke="#e03030" stroke-width="0.85"/><circle cx="541.03" cy="138.62" r="1.95" stroke="#e03030" stroke-width="0.85"/><circle cx="544.93" cy="136.13" r="1.95" stroke="#e03030" stroke-width="0.85"/><polyline stroke="#55dd33" stroke-width="0.8" points="428.08,219.09 431.97,219.07 435.87,219.07 439.76,219.05 443.66,218.95 447.56,218.74 451.45,218.29 455.34,217.4 459.24,216.04 463.13,214.29 467.03,212.42 470.92,210.54 474.82,208.46 478.71,206.05 482.61,203.11 486.5,199.49 490.4,195.35 494.29,190.28 498.19,185.21 502.08,180.72 505.98,177.75 509.88,175.52 513.77,173.53 517.66,171.65 521.56,169.82 525.45,167.98 529.35,166.14 533.25,164.34 537.14,162.58 541.03,160.83 544.93,159.07"/><circle cx="428.08" cy="219.09" r="1.95" stroke="#55dd33" stroke-width="0.85"/><circle cx="431.97" cy="219.07" r="1.95" stroke="#55dd33" stroke-width="0.85"/><circle cx="435.87" cy="219.07" r="1.95" stroke="#55dd33" stroke-width="0.85"/><circle cx="439.76" cy="219.05" r="1.95" stroke="#55dd33" stroke-width="0.85"/><circle cx="443.66" cy="218.95" r="1.95" stroke="#55dd33" stroke-width="0.85"/><circle cx="447.56" cy="218.74" r="1.95" stroke="#55dd33" stroke-width="0.85"/><circle cx="451.45" cy="218.29" r="1.95" stroke="#55dd33" stroke-width="0.85"/><circle cx="455.34" cy="217.4" r="1.95" stroke="#55dd33" stroke-width="0.85"/><circle cx="459.24" cy="216.04" r="1.95" stroke="#55dd33" stroke-width="0.85"/><circle cx="463.13" cy="214.29" r="1.95" stroke="#55dd33" stroke-width="0.85"/><circle cx="467.03" cy="212.42" r="1.95" stroke="#55dd33" stroke-width="0.85"/><circle cx="470.92" cy="210.54" r="1.95" stroke="#55dd33" stroke-width="0.85"/><circle cx="474.82" cy="208.46" r="1.95" stroke="#55dd33" stroke-width="0.85"/><circle cx="478.71" cy="206.05" r="1.95" stroke="#55dd33" stroke-width="0.85"/><circle cx="482.61" cy="203.11" r="1.95" stroke="#55dd33" stroke-width="0.85"/><circle cx="486.5" cy="199.49" r="1.95" stroke="#55dd33" stroke-width="0.85"/><circle cx="490.4" cy="195.35" r="1.95" stroke="#55dd33" stroke-width="0.85"/><circle cx="494.29" cy="190.28" r="1.95" stroke="#55dd33" stroke-width="0.85"/><circle cx="498.19" cy="185.21" r="1.95" stroke="#55dd33" stroke-width="0.85"/><circle cx="502.08" cy="180.72" r="1.95" stroke="#55dd33" stroke-width="0.85"/><circle cx="505.98" cy="177.75" r="1.95" stroke="#55dd33" stroke-width="0.85"/><circle cx="509.88" cy="175.52" r="1.95" stroke="#55dd33" stroke-width="0.85"/><circle cx="513.77" cy="173.53" r="1.95" stroke="#55dd33" stroke-width="0.85"/><circle cx="517.66" cy="171.65" r="1.95" stroke="#55dd33" stroke-width="0.85"/><circle cx="521.56" cy="169.82" r="1.95" stroke="#55dd33" stroke-width="0.85"/><circle cx="525.45" cy="167.98" r="1.95" stroke="#55dd33" stroke-width="0.85"/><circle cx="529.35" cy="166.14" r="1.95" stroke="#55dd33" stroke-width="0.85"/><circle cx="533.25" cy="164.34" r="1.95" stroke="#55dd33" stroke-width="0.85"/><circle cx="537.14" cy="162.58" r="1.95" stroke="#55dd33" stroke-width="0.85"/><circle cx="541.03" cy="160.83" r="1.95" stroke="#55dd33" stroke-width="0.85"/><circle cx="544.93" cy="159.07" r="1.95" stroke="#55dd33" stroke-width="0.85"/><polyline stroke="#3a3ae0" stroke-width="0.8" points="428.08,230.56 431.97,231.02 435.87,231.47 439.76,231.88 443.66,232.16 447.56,232.34 451.45,232.24 455.34,231.4 459.24,229.97 463.13,228.07 467.03,225.76 470.92,223.42 474.82,220.77 478.71,217 482.61,211.75 486.5,205.36 490.4,198.48 494.29,191.54 498.19,185.03 502.08,178.57 505.98,172.75 509.88,168.46 513.77,165.34 517.66,162.81 521.56,160.45 525.45,158 529.35,155.34 533.25,152.67 537.14,150.01 541.03,147.34 544.93,144.67"/><circle cx="428.08" cy="230.56" r="1.95" stroke="#3a3ae0" stroke-width="0.85"/><circle cx="431.97" cy="231.02" r="1.95" stroke="#3a3ae0" stroke-width="0.85"/><circle cx="435.87" cy="231.47" r="1.95" stroke="#3a3ae0" stroke-width="0.85"/><circle cx="439.76" cy="231.88" r="1.95" stroke="#3a3ae0" stroke-width="0.85"/><circle cx="443.66" cy="232.16" r="1.95" stroke="#3a3ae0" stroke-width="0.85"/><circle cx="447.56" cy="232.34" r="1.95" stroke="#3a3ae0" stroke-width="0.85"/><circle cx="451.45" cy="232.24" r="1.95" stroke="#3a3ae0" stroke-width="0.85"/><circle cx="455.34" cy="231.4" r="1.95" stroke="#3a3ae0" stroke-width="0.85"/><circle cx="459.24" cy="229.97" r="1.95" stroke="#3a3ae0" stroke-width="0.85"/><circle cx="463.13" cy="228.07" r="1.95" stroke="#3a3ae0" stroke-width="0.85"/><circle cx="467.03" cy="225.76" r="1.95" stroke="#3a3ae0" stroke-width="0.85"/><circle cx="470.92" cy="223.42" r="1.95" stroke="#3a3ae0" stroke-width="0.85"/><circle cx="474.82" cy="220.77" r="1.95" stroke="#3a3ae0" stroke-width="0.85"/><circle cx="478.71" cy="217" r="1.95" stroke="#3a3ae0" stroke-width="0.85"/><circle cx="482.61" cy="211.75" r="1.95" stroke="#3a3ae0" stroke-width="0.85"/><circle cx="486.5" cy="205.36" r="1.95" stroke="#3a3ae0" stroke-width="0.85"/><circle cx="490.4" cy="198.48" r="1.95" stroke="#3a3ae0" stroke-width="0.85"/><circle cx="494.29" cy="191.54" r="1.95" stroke="#3a3ae0" stroke-width="0.85"/><circle cx="498.19" cy="185.03" r="1.95" stroke="#3a3ae0" stroke-width="0.85"/><circle cx="502.08" cy="178.57" r="1.95" stroke="#3a3ae0" stroke-width="0.85"/><circle cx="505.98" cy="172.75" r="1.95" stroke="#3a3ae0" stroke-width="0.85"/><circle cx="509.88" cy="168.46" r="1.95" stroke="#3a3ae0" stroke-width="0.85"/><circle cx="513.77" cy="165.34" r="1.95" stroke="#3a3ae0" stroke-width="0.85"/><circle cx="517.66" cy="162.81" r="1.95" stroke="#3a3ae0" stroke-width="0.85"/><circle cx="521.56" cy="160.45" r="1.95" stroke="#3a3ae0" stroke-width="0.85"/><circle cx="525.45" cy="158" r="1.95" stroke="#3a3ae0" stroke-width="0.85"/><circle cx="529.35" cy="155.34" r="1.95" stroke="#3a3ae0" stroke-width="0.85"/><circle cx="533.25" cy="152.67" r="1.95" stroke="#3a3ae0" stroke-width="0.85"/><circle cx="537.14" cy="150.01" r="1.95" stroke="#3a3ae0" stroke-width="0.85"/><circle cx="541.03" cy="147.34" r="1.95" stroke="#3a3ae0" stroke-width="0.85"/><circle cx="544.93" cy="144.67" r="1.95" stroke="#3a3ae0" stroke-width="0.85"/><polyline stroke="#3a9a9a" stroke-width="0.8" points="428.08,215.09 431.97,215.42 435.87,215.75 439.76,216.02 443.66,216.16 447.56,216.2 451.45,216 455.34,215.09 459.24,213.66 463.13,211.85 467.03,209.45 470.92,206.16 474.82,201.68 478.71,196.66 482.61,191.93 486.5,187.94 490.4,184.26 494.29,180.73 498.19,177.21 502.08,173.35 505.98,170.28 509.88,167.63 513.77,165.1 517.66,162.64 521.56,160.24 525.45,157.93 529.35,155.74 533.25,153.7 537.14,151.73 541.03,149.8 544.93,147.87"/><circle cx="428.08" cy="215.09" r="1.95" stroke="#3a9a9a" stroke-width="0.85"/><circle cx="431.97" cy="215.42" r="1.95" stroke="#3a9a9a" stroke-width="0.85"/><circle cx="435.87" cy="215.75" r="1.95" stroke="#3a9a9a" stroke-width="0.85"/><circle cx="439.76" cy="216.02" r="1.95" stroke="#3a9a9a" stroke-width="0.85"/><circle cx="443.66" cy="216.16" r="1.95" stroke="#3a9a9a" stroke-width="0.85"/><circle cx="447.56" cy="216.2" r="1.95" stroke="#3a9a9a" stroke-width="0.85"/><circle cx="451.45" cy="216" r="1.95" stroke="#3a9a9a" stroke-width="0.85"/><circle cx="455.34" cy="215.09" r="1.95" stroke="#3a9a9a" stroke-width="0.85"/><circle cx="459.24" cy="213.66" r="1.95" stroke="#3a9a9a" stroke-width="0.85"/><circle cx="463.13" cy="211.85" r="1.95" stroke="#3a9a9a" stroke-width="0.85"/><circle cx="467.03" cy="209.45" r="1.95" stroke="#3a9a9a" stroke-width="0.85"/><circle cx="470.92" cy="206.16" r="1.95" stroke="#3a9a9a" stroke-width="0.85"/><circle cx="474.82" cy="201.68" r="1.95" stroke="#3a9a9a" stroke-width="0.85"/><circle cx="478.71" cy="196.66" r="1.95" stroke="#3a9a9a" stroke-width="0.85"/><circle cx="482.61" cy="191.93" r="1.95" stroke="#3a9a9a" stroke-width="0.85"/><circle cx="486.5" cy="187.94" r="1.95" stroke="#3a9a9a" stroke-width="0.85"/><circle cx="490.4" cy="184.26" r="1.95" stroke="#3a9a9a" stroke-width="0.85"/><circle cx="494.29" cy="180.73" r="1.95" stroke="#3a9a9a" stroke-width="0.85"/><circle cx="498.19" cy="177.21" r="1.95" stroke="#3a9a9a" stroke-width="0.85"/><circle cx="502.08" cy="173.35" r="1.95" stroke="#3a9a9a" stroke-width="0.85"/><circle cx="505.98" cy="170.28" r="1.95" stroke="#3a9a9a" stroke-width="0.85"/><circle cx="509.88" cy="167.63" r="1.95" stroke="#3a9a9a" stroke-width="0.85"/><circle cx="513.77" cy="165.1" r="1.95" stroke="#3a9a9a" stroke-width="0.85"/><circle cx="517.66" cy="162.64" r="1.95" stroke="#3a9a9a" stroke-width="0.85"/><circle cx="521.56" cy="160.24" r="1.95" stroke="#3a9a9a" stroke-width="0.85"/><circle cx="525.45" cy="157.93" r="1.95" stroke="#3a9a9a" stroke-width="0.85"/><circle cx="529.35" cy="155.74" r="1.95" stroke="#3a9a9a" stroke-width="0.85"/><circle cx="533.25" cy="153.7" r="1.95" stroke="#3a9a9a" stroke-width="0.85"/><circle cx="537.14" cy="151.73" r="1.95" stroke="#3a9a9a" stroke-width="0.85"/><circle cx="541.03" cy="149.8" r="1.95" stroke="#3a9a9a" stroke-width="0.85"/><circle cx="544.93" cy="147.87" r="1.95" stroke="#3a9a9a" stroke-width="0.85"/></g>
<text x="12.4" y="268.3" font-family='"Liberation Serif", serif' font-size="17" font-weight="bold" text-anchor="start" fill="#000" >(g)</text>
<text x="41" y="315.7" font-family='"Liberation Serif", serif' font-size="7.4" font-weight="bold" text-anchor="middle" fill="#111" transform="rotate(-90 41 315.7)"  textLength="34" lengthAdjust="spacingAndGlyphs">V vs. NHE</text>
<line x1="54.3" y1="263.5" x2="54.3" y2="374" stroke="#666" stroke-width="1.8" />
<line x1="52.3" y1="264.1" x2="55.3" y2="264.1" stroke="#666" stroke-width="1.1" />
<text x="50.5" y="266.3" font-family='"Liberation Serif", serif' font-size="6.5" font-weight="bold" text-anchor="end" fill="#666" >-2</text>
<line x1="52.3" y1="284" x2="55.3" y2="284" stroke="#666" stroke-width="1.1" />
<text x="50.5" y="286.2" font-family='"Liberation Serif", serif' font-size="6.5" font-weight="bold" text-anchor="end" fill="#666" >-1</text>
<line x1="52.3" y1="303.9" x2="55.3" y2="303.9" stroke="#666" stroke-width="1.1" />
<text x="50.5" y="306.1" font-family='"Liberation Serif", serif' font-size="6.5" font-weight="bold" text-anchor="end" fill="#666" >0</text>
<line x1="52.3" y1="323.8" x2="55.3" y2="323.8" stroke="#666" stroke-width="1.1" />
<text x="50.5" y="326" font-family='"Liberation Serif", serif' font-size="6.5" font-weight="bold" text-anchor="end" fill="#666" >1</text>
<line x1="52.3" y1="343.7" x2="55.3" y2="343.7" stroke="#666" stroke-width="1.1" />
<text x="50.5" y="345.9" font-family='"Liberation Serif", serif' font-size="6.5" font-weight="bold" text-anchor="end" fill="#666" >2</text>
<line x1="52.3" y1="363.6" x2="55.3" y2="363.6" stroke="#666" stroke-width="1.1" />
<text x="50.5" y="365.8" font-family='"Liberation Serif", serif' font-size="6.5" font-weight="bold" text-anchor="end" fill="#666" >3</text>
<line x1="52.8" y1="274.05" x2="54.3" y2="274.05" stroke="#666" stroke-width="0.9" />
<line x1="52.8" y1="293.95" x2="54.3" y2="293.95" stroke="#666" stroke-width="0.9" />
<line x1="52.8" y1="313.85" x2="54.3" y2="313.85" stroke="#666" stroke-width="0.9" />
<line x1="52.8" y1="333.75" x2="54.3" y2="333.75" stroke="#666" stroke-width="0.9" />
<line x1="52.8" y1="353.65" x2="54.3" y2="353.65" stroke="#666" stroke-width="0.9" />
<line x1="55" y1="303.9" x2="232" y2="303.9" stroke="#9a4fcf" stroke-width="0.9" stroke-dasharray="2,1.6"/>
<line x1="55" y1="328.38" x2="232" y2="328.38" stroke="#9a4fcf" stroke-width="0.9" stroke-dasharray="2,1.6"/>
<rect x="57.4" y="292" width="26" height="3.2" fill="#808080"/>
<rect x="57.4" y="340.4" width="26" height="3.2" fill="#808080"/>
<line x1="70.4" y1="340.4" x2="70.4" y2="298.6" stroke="#808080" stroke-width="0.8" />
<line x1="70.4" y1="295.2" x2="70.4" y2="337" stroke="#808080" stroke-width="0.8" />
<path d="M70.4,295.2 L68.8,299.1 L72,299.1 Z" fill="#808080"/>
<path d="M70.4,340.4 L68.8,336.5 L72,336.5 Z" fill="#808080"/>
<text x="70.7" y="291.6" font-family='"Liberation Serif", serif' font-size="5.6" font-weight="bold" text-anchor="middle" fill="#808080"  textLength="20" lengthAdjust="spacingAndGlyphs">-0.53 eV</text>
<text x="70.7" y="349.8" font-family='"Liberation Serif", serif' font-size="5.6" font-weight="bold" text-anchor="middle" fill="#808080"  textLength="17.5" lengthAdjust="spacingAndGlyphs">1.90 eV</text>
<text x="67.6" y="317.8" font-family='"Liberation Serif", serif' font-size="5.8" font-weight="bold" text-anchor="middle" fill="#808080" transform="rotate(-90 67.6 317.8)"  textLength="18.5" lengthAdjust="spacingAndGlyphs">2.43 eV</text>
<text x="75.9" y="282.89" font-family='"Liberation Serif", serif' font-size="6.3" font-weight="bold" text-anchor="middle" fill="#808080" transform="rotate(-26.6 75.9 282.89)"  textLength="16.5" lengthAdjust="spacingAndGlyphs">BiVO<tspan font-size="3.8" dy="1.3">4</tspan><tspan dy="-1.3"></tspan></text>
<rect x="88" y="293" width="26" height="3.2" fill="#7f7f10"/>
<rect x="88" y="339.9" width="26" height="3.2" fill="#7f7f10"/>
<line x1="101" y1="339.9" x2="101" y2="299.6" stroke="#7f7f10" stroke-width="0.8" />
<line x1="101" y1="296.2" x2="101" y2="336.5" stroke="#7f7f10" stroke-width="0.8" />
<path d="M101,296.2 L99.4,300.1 L102.6,300.1 Z" fill="#7f7f10"/>
<path d="M101,339.9 L99.4,336 L102.6,336 Z" fill="#7f7f10"/>
<text x="101.3" y="292.6" font-family='"Liberation Serif", serif' font-size="5.6" font-weight="bold" text-anchor="middle" fill="#c02020"  textLength="20" lengthAdjust="spacingAndGlyphs">-0.51 eV</text>
<text x="101.3" y="349.3" font-family='"Liberation Serif", serif' font-size="5.6" font-weight="bold" text-anchor="middle" fill="#7f7f10"  textLength="17.5" lengthAdjust="spacingAndGlyphs">1.83 eV</text>
<text x="98.2" y="318.05" font-family='"Liberation Serif", serif' font-size="5.8" font-weight="bold" text-anchor="middle" fill="#7f7f10" transform="rotate(-90 98.2 318.05)"  textLength="18.5" lengthAdjust="spacingAndGlyphs">2.34 eV</text>
<text x="114.38" y="280.64" font-family='"Liberation Serif", serif' font-size="6.3" font-weight="bold" text-anchor="middle" fill="#7f7f10" transform="rotate(-23 114.38 280.64)"  textLength="35" lengthAdjust="spacingAndGlyphs">Bi<tspan font-size="3.8" dy="1.3">0.7</tspan><tspan dy="-1.3">Fe<tspan font-size="3.8" dy="1.3">0.3</tspan><tspan dy="-1.3">VO<tspan font-size="3.8" dy="1.3">4</tspan><tspan dy="-1.3"></tspan></tspan></tspan></text>
<rect x="118.2" y="291.9" width="27" height="3.2" fill="#9a33ee"/>
<rect x="118.2" y="338.2" width="27" height="3.2" fill="#9a33ee"/>
<line x1="131.7" y1="338.2" x2="131.7" y2="298.5" stroke="#9a33ee" stroke-width="0.8" />
<line x1="131.7" y1="295.1" x2="131.7" y2="334.8" stroke="#9a33ee" stroke-width="0.8" />
<path d="M131.7,295.1 L130.1,299 L133.3,299 Z" fill="#9a33ee"/>
<path d="M131.7,338.2 L130.1,334.3 L133.3,334.3 Z" fill="#9a33ee"/>
<text x="132" y="291.5" font-family='"Liberation Serif", serif' font-size="5.6" font-weight="bold" text-anchor="middle" fill="#9a33ee"  textLength="20" lengthAdjust="spacingAndGlyphs">-0.54 eV</text>
<text x="132" y="347.6" font-family='"Liberation Serif", serif' font-size="5.6" font-weight="bold" text-anchor="middle" fill="#9a33ee"  textLength="17.5" lengthAdjust="spacingAndGlyphs">1.75 eV</text>
<text x="128.9" y="316.65" font-family='"Liberation Serif", serif' font-size="5.8" font-weight="bold" text-anchor="middle" fill="#9a33ee" transform="rotate(-90 128.9 316.65)"  textLength="18.5" lengthAdjust="spacingAndGlyphs">2.29 eV</text>
<text x="147.35" y="279.21" font-family='"Liberation Serif", serif' font-size="6.3" font-weight="bold" text-anchor="middle" fill="#9a33ee" transform="rotate(-25 147.35 279.21)"  textLength="34.5" lengthAdjust="spacingAndGlyphs">Bi<tspan font-size="3.8" dy="1.3">0.5</tspan><tspan dy="-1.3">Fe<tspan font-size="3.8" dy="1.3">0.5</tspan><tspan dy="-1.3">VO<tspan font-size="3.8" dy="1.3">4</tspan><tspan dy="-1.3"></tspan></tspan></tspan></text>
<rect x="150" y="293.8" width="26.8" height="3.2" fill="#f08010"/>
<rect x="150" y="338.2" width="26.8" height="3.2" fill="#f08010"/>
<line x1="163.4" y1="338.2" x2="163.4" y2="300.4" stroke="#f08010" stroke-width="0.8" />
<line x1="163.4" y1="297" x2="163.4" y2="334.8" stroke="#f08010" stroke-width="0.8" />
<path d="M163.4,297 L161.8,300.9 L165,300.9 Z" fill="#f08010"/>
<path d="M163.4,338.2 L161.8,334.3 L165,334.3 Z" fill="#f08010"/>
<text x="163.7" y="293.4" font-family='"Liberation Serif", serif' font-size="5.6" font-weight="bold" text-anchor="middle" fill="#f08010"  textLength="20" lengthAdjust="spacingAndGlyphs">-0.44 eV</text>
<text x="163.7" y="347.6" font-family='"Liberation Serif", serif' font-size="5.6" font-weight="bold" text-anchor="middle" fill="#f08010"  textLength="17.5" lengthAdjust="spacingAndGlyphs">1.50 eV</text>
<text x="160.6" y="317.6" font-family='"Liberation Serif", serif' font-size="5.8" font-weight="bold" text-anchor="middle" fill="#f08010" transform="rotate(-90 160.6 317.6)"  textLength="18.5" lengthAdjust="spacingAndGlyphs">2.19 eV</text>
<text x="178.46" y="281.5" font-family='"Liberation Serif", serif' font-size="6.3" font-weight="bold" text-anchor="middle" fill="#f08010" transform="rotate(-25.6 178.46 281.5)"  textLength="34" lengthAdjust="spacingAndGlyphs">Bi<tspan font-size="3.8" dy="1.3">0.3</tspan><tspan dy="-1.3">Fe<tspan font-size="3.8" dy="1.3">0.7</tspan><tspan dy="-1.3">VO<tspan font-size="3.8" dy="1.3">4</tspan><tspan dy="-1.3"></tspan></tspan></tspan></text>
<rect x="181.5" y="293" width="27.2" height="3.2" fill="#e010e0"/>
<rect x="181.5" y="332.4" width="27.2" height="3.2" fill="#e010e0"/>
<line x1="195.1" y1="332.4" x2="195.1" y2="299.6" stroke="#e010e0" stroke-width="0.8" />
<line x1="195.1" y1="296.2" x2="195.1" y2="329" stroke="#e010e0" stroke-width="0.8" />
<path d="M195.1,296.2 L193.5,300.1 L196.7,300.1 Z" fill="#e010e0"/>
<path d="M195.1,332.4 L193.5,328.5 L196.7,328.5 Z" fill="#e010e0"/>
<text x="195.4" y="292.6" font-family='"Liberation Serif", serif' font-size="5.6" font-weight="bold" text-anchor="middle" fill="#e010e0"  textLength="20" lengthAdjust="spacingAndGlyphs">-0.46 eV</text>
<text x="195.4" y="341.8" font-family='"Liberation Serif", serif' font-size="5.6" font-weight="bold" text-anchor="middle" fill="#e010e0"  textLength="17.5" lengthAdjust="spacingAndGlyphs">1.48 eV</text>
<text x="192.3" y="314.3" font-family='"Liberation Serif", serif' font-size="5.8" font-weight="bold" text-anchor="middle" fill="#e010e0" transform="rotate(-90 192.3 314.3)"  textLength="18.5" lengthAdjust="spacingAndGlyphs">1.96 eV</text>
<text x="203.45" y="283.35" font-family='"Liberation Serif", serif' font-size="6.3" font-weight="bold" text-anchor="middle" fill="#e010e0" transform="rotate(-22 203.45 283.35)"  textLength="17" lengthAdjust="spacingAndGlyphs">FeVO<tspan font-size="3.8" dy="1.3">4</tspan><tspan dy="-1.3"></tspan></text>
<text x="230.5" y="302" font-family='"Liberation Serif", serif' font-size="5.8" font-weight="bold" text-anchor="end" fill="#111" >CB</text>
<text x="230.5" y="310.5" font-family='"Liberation Serif", serif' font-size="5.8" font-weight="bold" text-anchor="end" fill="#111" >H<tspan font-size="3.8" dy="1.3">2</tspan><tspan dy="-1.3">/H<tspan font-size="3.8" dy="1.3">2</tspan><tspan dy="-1.3">O</tspan></tspan></text>
<text x="230.5" y="326.5" font-family='"Liberation Serif", serif' font-size="5.8" font-weight="bold" text-anchor="end" fill="#111" >O<tspan font-size="3.8" dy="1.3">2</tspan><tspan dy="-1.3">/H<tspan font-size="3.8" dy="1.3">2</tspan><tspan dy="-1.3">O</tspan></tspan></text>
<text x="230.5" y="335.5" font-family='"Liberation Serif", serif' font-size="5.8" font-weight="bold" text-anchor="end" fill="#111" >VB</text>
<text x="261.6" y="275.2" font-family='"Liberation Serif", serif' font-size="17" font-weight="bold" text-anchor="start" fill="#000" >(h)</text>
<text x="295.2" y="316.1" font-family='"Liberation Serif", serif' font-size="7.4" font-weight="bold" text-anchor="middle" fill="#111" transform="rotate(-90 295.2 316.1)"  textLength="33.5" lengthAdjust="spacingAndGlyphs">V vs. NHE</text>
<line x1="308.3" y1="266" x2="308.3" y2="371.5" stroke="#222" stroke-width="1.4" />
<line x1="306.3" y1="265.9" x2="309.3" y2="265.9" stroke="#222" stroke-width="1.1" />
<text x="305.5" y="268.1" font-family='"Liberation Serif", serif' font-size="6.5" font-weight="bold" text-anchor="end" fill="#222" >-2</text>
<line x1="306.3" y1="285.1" x2="309.3" y2="285.1" stroke="#222" stroke-width="1.1" />
<text x="305.5" y="287.3" font-family='"Liberation Serif", serif' font-size="6.5" font-weight="bold" text-anchor="end" fill="#222" >-1</text>
<line x1="306.3" y1="304.3" x2="309.3" y2="304.3" stroke="#222" stroke-width="1.1" />
<text x="305.5" y="306.5" font-family='"Liberation Serif", serif' font-size="6.5" font-weight="bold" text-anchor="end" fill="#222" >0</text>
<line x1="306.3" y1="323.5" x2="309.3" y2="323.5" stroke="#222" stroke-width="1.1" />
<text x="305.5" y="325.7" font-family='"Liberation Serif", serif' font-size="6.5" font-weight="bold" text-anchor="end" fill="#222" >1</text>
<line x1="306.3" y1="342.7" x2="309.3" y2="342.7" stroke="#222" stroke-width="1.1" />
<text x="305.5" y="344.9" font-family='"Liberation Serif", serif' font-size="6.5" font-weight="bold" text-anchor="end" fill="#222" >2</text>
<line x1="306.3" y1="361.9" x2="309.3" y2="361.9" stroke="#222" stroke-width="1.1" />
<text x="305.5" y="364.1" font-family='"Liberation Serif", serif' font-size="6.5" font-weight="bold" text-anchor="end" fill="#222" >3</text>
<line x1="306.8" y1="275.5" x2="308.3" y2="275.5" stroke="#222" stroke-width="0.9" />
<line x1="306.8" y1="294.7" x2="308.3" y2="294.7" stroke="#222" stroke-width="0.9" />
<line x1="306.8" y1="313.9" x2="308.3" y2="313.9" stroke="#222" stroke-width="0.9" />
<line x1="306.8" y1="333.1" x2="308.3" y2="333.1" stroke="#222" stroke-width="0.9" />
<line x1="306.8" y1="352.3" x2="308.3" y2="352.3" stroke="#222" stroke-width="0.9" />
<line x1="310" y1="304.3" x2="503" y2="304.3" stroke="#8878c8" stroke-width="0.75" stroke-dasharray="2,1.6"/>
<line x1="310" y1="327.92" x2="503" y2="327.92" stroke="#8878c8" stroke-width="0.75" stroke-dasharray="2,1.6"/>
<rect x="312.2" y="283.6" width="25.9" height="3.2" fill="#000000"/>
<rect x="312.2" y="333.6" width="25.9" height="3.2" fill="#000000"/>
<line x1="325.15" y1="333.6" x2="325.15" y2="290.2" stroke="#000000" stroke-width="0.8" />
<line x1="325.15" y1="286.8" x2="325.15" y2="330.2" stroke="#000000" stroke-width="0.8" />
<path d="M325.15,286.8 L323.55,290.7 L326.75,290.7 Z" fill="#000000"/>
<path d="M325.15,333.6 L323.55,329.7 L326.75,329.7 Z" fill="#000000"/>
<text x="325.45" y="283.2" font-family='"Liberation Serif", serif' font-size="5.6" font-weight="bold" text-anchor="middle" fill="#000"  textLength="20" lengthAdjust="spacingAndGlyphs">-1.04 eV</text>
<text x="325.45" y="343" font-family='"Liberation Serif", serif' font-size="5.6" font-weight="bold" text-anchor="middle" fill="#000000"  textLength="17.5" lengthAdjust="spacingAndGlyphs">1.60 eV</text>
<text x="322.35" y="310.2" font-family='"Liberation Serif", serif' font-size="5.8" font-weight="bold" text-anchor="middle" fill="#000000" transform="rotate(-90 322.35 310.2)"  textLength="18.5" lengthAdjust="spacingAndGlyphs">2.64 eV</text>
<text x="329" y="275.03" font-family='"Liberation Serif", serif' font-size="6.3" font-weight="bold" text-anchor="middle" fill="#000000" transform="rotate(-30 329 275.03)"  textLength="11" lengthAdjust="spacingAndGlyphs">SCN</text>
<rect x="342" y="296.2" width="26.3" height="3.2" fill="#ff1010"/>
<rect x="342" y="342.9" width="26.3" height="3.2" fill="#ff1010"/>
<line x1="355.15" y1="342.9" x2="355.15" y2="302.8" stroke="#ff1010" stroke-width="0.8" />
<line x1="355.15" y1="299.4" x2="355.15" y2="339.5" stroke="#ff1010" stroke-width="0.8" />
<path d="M355.15,299.4 L353.55,303.3 L356.75,303.3 Z" fill="#ff1010"/>
<path d="M355.15,342.9 L353.55,339 L356.75,339 Z" fill="#ff1010"/>
<text x="355.45" y="295.8" font-family='"Liberation Serif", serif' font-size="5.6" font-weight="bold" text-anchor="middle" fill="#ff1010"  textLength="20" lengthAdjust="spacingAndGlyphs">-0.36 eV</text>
<text x="355.45" y="352.3" font-family='"Liberation Serif", serif' font-size="5.6" font-weight="bold" text-anchor="middle" fill="#ff1010"  textLength="17.5" lengthAdjust="spacingAndGlyphs">2.08 eV</text>
<text x="352.35" y="321.15" font-family='"Liberation Serif", serif' font-size="5.8" font-weight="bold" text-anchor="middle" fill="#ff1010" transform="rotate(-90 352.35 321.15)"  textLength="18.5" lengthAdjust="spacingAndGlyphs">2.44 eV</text>
<text x="367.77" y="284.3" font-family='"Liberation Serif", serif' font-size="6.3" font-weight="bold" text-anchor="middle" fill="#ff1010" transform="rotate(-25.9 367.77 284.3)"  textLength="30" lengthAdjust="spacingAndGlyphs">BiVO<tspan font-size="3.8" dy="1.3">4</tspan><tspan dy="-1.3">/SCN</tspan></text>
<rect x="374" y="297.1" width="26.4" height="3.2" fill="#2828e8"/>
<rect x="374" y="342.6" width="26.4" height="3.2" fill="#2828e8"/>
<line x1="387.2" y1="342.6" x2="387.2" y2="303.7" stroke="#2828e8" stroke-width="0.8" />
<line x1="387.2" y1="300.3" x2="387.2" y2="339.2" stroke="#2828e8" stroke-width="0.8" />
<path d="M387.2,300.3 L385.6,304.2 L388.8,304.2 Z" fill="#2828e8"/>
<path d="M387.2,342.6 L385.6,338.7 L388.8,338.7 Z" fill="#2828e8"/>
<text x="387.5" y="296.7" font-family='"Liberation Serif", serif' font-size="5.6" font-weight="bold" text-anchor="middle" fill="#2828e8"  textLength="20" lengthAdjust="spacingAndGlyphs">-0.33 eV</text>
<text x="387.5" y="352" font-family='"Liberation Serif", serif' font-size="5.6" font-weight="bold" text-anchor="middle" fill="#2828e8"  textLength="17.5" lengthAdjust="spacingAndGlyphs">2.05 eV</text>
<text x="384.4" y="321.45" font-family='"Liberation Serif", serif' font-size="5.8" font-weight="bold" text-anchor="middle" fill="#2828e8" transform="rotate(-90 384.4 321.45)"  textLength="18.5" lengthAdjust="spacingAndGlyphs">2.38 eV</text>
<text x="406.61" y="282.53" font-family='"Liberation Serif", serif' font-size="6.3" font-weight="bold" text-anchor="middle" fill="#2828e8" transform="rotate(-24 406.61 282.53)"  textLength="47.5" lengthAdjust="spacingAndGlyphs">Bi<tspan font-size="3.8" dy="1.3">0.7</tspan><tspan dy="-1.3">Fe<tspan font-size="3.8" dy="1.3">0.3</tspan><tspan dy="-1.3">VO<tspan font-size="3.8" dy="1.3">4</tspan><tspan dy="-1.3">/SCN</tspan></tspan></tspan></text>
<rect x="403.5" y="291.9" width="27" height="3.2" fill="#8f8f20"/>
<rect x="403.5" y="336.8" width="27" height="3.2" fill="#8f8f20"/>
<line x1="417" y1="336.8" x2="417" y2="298.5" stroke="#8f8f20" stroke-width="0.8" />
<line x1="417" y1="295.1" x2="417" y2="333.4" stroke="#8f8f20" stroke-width="0.8" />
<path d="M417,295.1 L415.4,299 L418.6,299 Z" fill="#8f8f20"/>
<path d="M417,336.8 L415.4,332.9 L418.6,332.9 Z" fill="#8f8f20"/>
<text x="417.3" y="291.5" font-family='"Liberation Serif", serif' font-size="5.6" font-weight="bold" text-anchor="middle" fill="#8f8f20"  textLength="20" lengthAdjust="spacingAndGlyphs">-0.61 eV</text>
<text x="417.3" y="346.2" font-family='"Liberation Serif", serif' font-size="5.6" font-weight="bold" text-anchor="middle" fill="#8f8f20"  textLength="17.5" lengthAdjust="spacingAndGlyphs">1.72 eV</text>
<text x="414.2" y="315.95" font-family='"Liberation Serif", serif' font-size="5.8" font-weight="bold" text-anchor="middle" fill="#8f8f20" transform="rotate(-90 414.2 315.95)"  textLength="18.5" lengthAdjust="spacingAndGlyphs">2.33 eV</text>
<text x="438.11" y="278.13" font-family='"Liberation Serif", serif' font-size="6.3" font-weight="bold" text-anchor="middle" fill="#8f8f20" transform="rotate(-23.8 438.11 278.13)"  textLength="46" lengthAdjust="spacingAndGlyphs">Bi<tspan font-size="3.8" dy="1.3">0.5</tspan><tspan dy="-1.3">Fe<tspan font-size="3.8" dy="1.3">0.5</tspan><tspan dy="-1.3">VO<tspan font-size="3.8" dy="1.3">4</tspan><tspan dy="-1.3">/SCN</tspan></tspan></tspan></text>
<rect x="434" y="295.8" width="27.3" height="3.2" fill="#800080"/>
<rect x="434" y="338.1" width="27.3" height="3.2" fill="#800080"/>
<line x1="447.65" y1="338.1" x2="447.65" y2="302.4" stroke="#800080" stroke-width="0.8" />
<line x1="447.65" y1="299" x2="447.65" y2="334.7" stroke="#800080" stroke-width="0.8" />
<path d="M447.65,299 L446.05,302.9 L449.25,302.9 Z" fill="#800080"/>
<path d="M447.65,338.1 L446.05,334.2 L449.25,334.2 Z" fill="#800080"/>
<text x="447.95" y="295.4" font-family='"Liberation Serif", serif' font-size="5.6" font-weight="bold" text-anchor="middle" fill="#800080"  textLength="20" lengthAdjust="spacingAndGlyphs">-0.40 eV</text>
<text x="447.95" y="347.5" font-family='"Liberation Serif", serif' font-size="5.6" font-weight="bold" text-anchor="middle" fill="#800080"  textLength="17.5" lengthAdjust="spacingAndGlyphs">1.78 eV</text>
<text x="444.85" y="318.55" font-family='"Liberation Serif", serif' font-size="5.8" font-weight="bold" text-anchor="middle" fill="#800080" transform="rotate(-90 444.85 318.55)"  textLength="18.5" lengthAdjust="spacingAndGlyphs">2.18 eV</text>
<text x="466.11" y="280.63" font-family='"Liberation Serif", serif' font-size="6.3" font-weight="bold" text-anchor="middle" fill="#800080" transform="rotate(-24 466.11 280.63)"  textLength="48" lengthAdjust="spacingAndGlyphs">Bi<tspan font-size="3.8" dy="1.3">0.3</tspan><tspan dy="-1.3">Fe<tspan font-size="3.8" dy="1.3">0.7</tspan><tspan dy="-1.3">VO<tspan font-size="3.8" dy="1.3">4</tspan><tspan dy="-1.3">/SCN</tspan></tspan></tspan></text>
<rect x="465.2" y="289.7" width="26.6" height="3.2" fill="#1a1aa0"/>
<rect x="465.2" y="327.6" width="26.6" height="3.2" fill="#1a1aa0"/>
<line x1="478.5" y1="327.6" x2="478.5" y2="296.3" stroke="#1a1aa0" stroke-width="0.8" />
<line x1="478.5" y1="292.9" x2="478.5" y2="324.2" stroke="#1a1aa0" stroke-width="0.8" />
<path d="M478.5,292.9 L476.9,296.8 L480.1,296.8 Z" fill="#1a1aa0"/>
<path d="M478.5,327.6 L476.9,323.7 L480.1,323.7 Z" fill="#1a1aa0"/>
<text x="478.8" y="289.3" font-family='"Liberation Serif", serif' font-size="5.6" font-weight="bold" text-anchor="middle" fill="#1a1aa0"  textLength="20" lengthAdjust="spacingAndGlyphs">-0.71 eV</text>
<text x="478.8" y="337" font-family='"Liberation Serif", serif' font-size="5.6" font-weight="bold" text-anchor="middle" fill="#1a1aa0"  textLength="17.5" lengthAdjust="spacingAndGlyphs">1.28 eV</text>
<text x="475.7" y="310.25" font-family='"Liberation Serif", serif' font-size="5.8" font-weight="bold" text-anchor="middle" fill="#1a1aa0" transform="rotate(-90 475.7 310.25)"  textLength="18.5" lengthAdjust="spacingAndGlyphs">1.99 eV</text>
<text x="492.41" y="279.68" font-family='"Liberation Serif", serif' font-size="6.3" font-weight="bold" text-anchor="middle" fill="#1a1aa0" transform="rotate(-27 492.41 279.68)"  textLength="30.3" lengthAdjust="spacingAndGlyphs">FeVO<tspan font-size="3.8" dy="1.3">4</tspan><tspan dy="-1.3">/SCN</tspan></text>
<text x="503.5" y="302" font-family='"Liberation Serif", serif' font-size="5.8" font-weight="bold" text-anchor="end" fill="#111" >H<tspan font-size="3.8" dy="1.3">2</tspan><tspan dy="-1.3">/H<tspan font-size="3.8" dy="1.3">2</tspan><tspan dy="-1.3">O</tspan></tspan></text>
<text x="503.5" y="311" font-family='"Liberation Serif", serif' font-size="5.8" font-weight="bold" text-anchor="end" fill="#111" >CB</text>
<text x="503.5" y="325.5" font-family='"Liberation Serif", serif' font-size="5.8" font-weight="bold" text-anchor="end" fill="#111" >O<tspan font-size="3.8" dy="1.3">2</tspan><tspan dy="-1.3">/H<tspan font-size="3.8" dy="1.3">2</tspan><tspan dy="-1.3">O</tspan></tspan></text>
<text x="503.5" y="334.5" font-family='"Liberation Serif", serif' font-size="5.8" font-weight="bold" text-anchor="end" fill="#111" >VB</text>
</svg></body></html>
